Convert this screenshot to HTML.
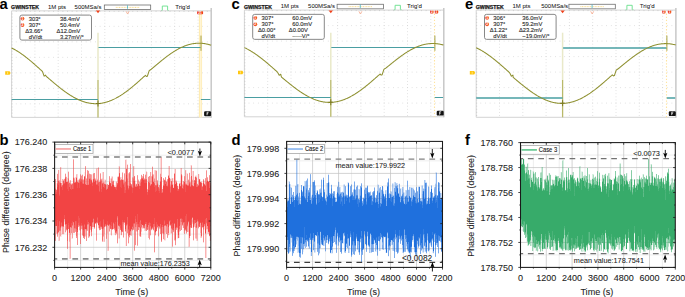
<!DOCTYPE html><html><head><meta charset="utf-8"><style>html,body{margin:0;padding:0;background:#fff;overflow:hidden}svg{display:block}</style></head><body><svg width="685" height="297" viewBox="0 0 685 297" style="font-family:'Liberation Sans',sans-serif"><rect width="685" height="297" fill="#fff"/><text x="-0.4" y="8.5" font-size="14.8" font-weight="bold" fill="#000">a</text><g transform="translate(0,0)"><text x="11.1" y="9.3" font-size="4.9" font-weight="bold" fill="#1a1a1a" stroke="#1a1a1a" stroke-width="0.25" textLength="28" lengthAdjust="spacingAndGlyphs">GWINSTEK</text><text x="47.9" y="9.2" font-size="6" fill="#222" stroke="#222" stroke-width="0.05">1M  pts</text><text x="74.6" y="9.2" font-size="6" fill="#222" stroke="#222" stroke-width="0.05" textLength="26.9" lengthAdjust="spacingAndGlyphs">500MSa/s</text><rect x="104.3" y="5" width="46.4" height="4.6" fill="#fff" stroke="#666" stroke-width="0.75"/><line x1="115.8" y1="7.4" x2="139.5" y2="7.4" stroke="#f5cf60" stroke-width="0.7" stroke-dasharray="1 0.6"/><line x1="127.5" y1="5.3" x2="127.5" y2="8.8" stroke="#2fb0c8" stroke-width="0.7"/><polyline points="161,10.55 162.3,10.55 162.3,6.05 167.6,6.05 167.6,10.55 168.9,10.55" fill="none" stroke="#66e08a" stroke-width="0.9"/><text x="175.2" y="9.2" font-size="6.1" fill="#222" stroke="#222" stroke-width="0.05">Trig'd</text></g><path d="M34.9,10.85V117.4M58.2,10.85V117.4M81.5,10.85V117.4M104.8,10.85V117.4M128.1,10.85V117.4M151.4,10.85V117.4M174.7,10.85V117.4M198,10.85V117.4" stroke="#cdcdcd" stroke-width="0.75" stroke-dasharray="0.75 2.35" stroke-dashoffset="0.42" fill="none"/><path d="M11.6,26.35H211.2M11.6,41.85H211.2M11.6,57.35H211.2M11.6,72.85H211.2M11.6,88.35H211.2M11.6,103.85H211.2" stroke="#cdcdcd" stroke-width="0.75" stroke-dasharray="0.75 3.91" stroke-dashoffset="0.42" fill="none"/><path d="M11.6,10.85H211.2M11.6,10.85V117.4H211.2" stroke="#cfcfcf" stroke-width="0.9" fill="none"/><line x1="211.2" y1="8" x2="211.2" y2="117.8" stroke="#c4c4c4" stroke-width="1.4"/><path d="M16.26,10.85v1M20.92,10.85v1M25.58,10.85v1M30.24,10.85v1M34.9,10.85v1M39.56,10.85v1M44.22,10.85v1M48.88,10.85v1M53.54,10.85v1M58.2,10.85v1M62.86,10.85v1M67.52,10.85v1M72.18,10.85v1M76.84,10.85v1M81.5,10.85v1M86.16,10.85v1M90.82,10.85v1M95.48,10.85v1M100.14,10.85v1M104.8,10.85v1M109.46,10.85v1M114.12,10.85v1M118.78,10.85v1M123.44,10.85v1M128.1,10.85v1M132.76,10.85v1M137.42,10.85v1M142.08,10.85v1M146.74,10.85v1M151.4,10.85v1M156.06,10.85v1M160.72,10.85v1M165.38,10.85v1M170.04,10.85v1M174.7,10.85v1M179.36,10.85v1M184.02,10.85v1M188.68,10.85v1M193.34,10.85v1M198,10.85v1M202.66,10.85v1M207.32,10.85v1M11.6,13.95h1M11.6,17.05h1M11.6,20.15h1M11.6,23.25h1M11.6,26.35h1M11.6,29.45h1M11.6,32.55h1M11.6,35.65h1M11.6,38.75h1M11.6,41.85h1M11.6,44.95h1M11.6,48.05h1M11.6,51.15h1M11.6,54.25h1M11.6,57.35h1M11.6,60.45h1M11.6,63.55h1M11.6,66.65h1M11.6,69.75h1M11.6,72.85h1M11.6,75.95h1M11.6,79.05h1M11.6,82.15h1M11.6,85.25h1M11.6,88.35h1M11.6,91.45h1M11.6,94.55h1M11.6,97.65h1M11.6,100.75h1M11.6,103.85h1M11.6,106.95h1M11.6,110.05h1M11.6,113.15h1M11.6,116.25h1" stroke="#bdbdbd" stroke-width="0.6" fill="none"/><line x1="98" y1="32.7" x2="98" y2="80" stroke="#e9e9c9" stroke-width="1.5"/><line x1="98" y1="80" x2="98" y2="117.4" stroke="#b9b96a" stroke-width="1.3"/><rect x="199" y="13.35" width="3.2" height="104.05" fill="#fffaea"/><line x1="199.4" y1="13.35" x2="199.4" y2="117.4" stroke="#ffe7a0" stroke-width="0.85"/><line x1="201.2" y1="13.35" x2="201.2" y2="117.4" stroke="#ffe7a0" stroke-width="0.85"/><path d="M11.6,99.45H98M98.5,47.45H200.6M200.9,99.45H210.5" stroke="#4a9ea2" stroke-width="1.1" fill="none"/><path d="M11.6,47.92 L12.1,48.17 L12.6,48.43 L13.1,48.69 L13.6,48.96 L14.1,49.23 L14.6,49.51 L15.1,49.79 L15.6,50.08 L16.1,50.38 L16.6,50.68 L17.1,50.99 L17.6,51.3 L18.1,51.61 L18.6,51.93 L19.1,52.26 L19.6,52.59 L20.1,52.93 L20.6,53.27 L21.1,53.61 L21.6,53.96 L22.1,54.32 L22.6,54.68 L23.1,55.04 L23.6,55.41 L24.1,55.78 L24.6,56.15 L25.1,56.53 L25.6,56.92 L26.1,57.3 L26.6,57.69 L27.1,58.09 L27.6,58.49 L28.1,58.89 L28.6,59.29 L29.1,59.7 L29.6,60.11 L30.1,60.53 L30.6,60.95 L31.1,61.37 L31.6,61.79 L32.1,62.22 L32.6,62.65 L33.1,63.08 L33.6,63.51 L34.1,63.95 L34.6,64.38 L35.1,64.82 L35.6,65.27 L36.1,65.71 L36.6,66.16 L37.1,66.6 L37.6,67.05 L38.1,67.5 L38.6,67.95 L39.1,68.41 L39.6,68.86 L40.1,69.32 L40.6,69.77 L41.1,70.23 L41.6,70.69 L42.1,71.14 L42.6,71.9 L44.1,76.2 L45.6,75.1 L46.1,76.19 L46.6,76.62 L47.1,77.06 L47.6,77.49 L48.1,77.92 L48.6,78.35 L49.1,78.78 L49.6,79.21 L50.1,79.64 L50.6,80.07 L51.1,80.5 L51.6,80.93 L52.1,81.36 L52.6,81.78 L53.1,82.21 L53.6,82.63 L54.1,83.05 L54.6,83.47 L55.1,83.89 L55.6,84.3 L56.1,84.72 L56.6,85.13 L57.1,85.54 L57.6,85.95 L58.1,86.35 L58.6,86.75 L59.1,87.15 L59.6,87.55 L60.1,87.94 L60.6,88.34 L61.1,88.72 L61.6,89.11 L62.1,89.49 L62.6,89.87 L63.1,90.25 L63.6,90.62 L64.1,90.99 L64.6,91.35 L65.1,91.71 L65.6,92.07 L66.1,92.42 L66.6,92.77 L67.1,93.12 L67.6,93.46 L68.1,93.8 L68.6,94.13 L69.1,94.46 L69.6,94.78 L70.1,95.1 L70.6,95.41 L71.1,95.72 L71.6,96.02 L72.1,96.32 L72.6,96.62 L73.1,96.91 L73.6,97.19 L74.1,97.47 L74.6,97.74 L75.1,98.01 L75.6,98.27 L76.1,98.53 L76.6,98.78 L77.1,99.02 L77.6,99.26 L78.1,99.5 L78.6,99.73 L79.1,99.95 L79.6,100.17 L80.1,100.38 L80.6,100.58 L81.1,100.78 L81.6,100.97 L82.1,101.16 L82.6,101.34 L83.1,101.51 L83.6,101.68 L84.1,101.84 L84.6,101.99 L85.1,102.14 L85.6,102.28 L86.1,102.41 L86.6,102.54 L87.1,102.66 L87.6,102.78 L88.1,102.88 L88.6,102.99 L89.1,103.08 L89.6,103.17 L90.1,103.25 L90.6,103.32 L91.1,103.39 L91.6,103.45 L92.1,103.5 L92.6,103.55 L93.1,103.59 L93.6,103.62 L94.1,103.65 L94.6,103.67 L95.1,103.68 L95.6,103.69 L96.1,103.69 L96.6,103.68 L97.1,103.66 L97.6,103.64 L98.1,103.61 L98.6,103.57 L99.1,103.53 L99.6,103.48 L100.1,103.42 L100.6,103.36 L101.1,103.29 L101.6,103.21 L102.1,103.13 L102.6,103.03 L103.1,102.94 L103.6,102.83 L104.1,102.72 L104.6,102.6 L105.1,102.48 L105.6,102.34 L106.1,102.21 L106.6,102.06 L107.1,101.91 L107.6,101.75 L108.1,101.58 L108.6,101.41 L109.1,101.24 L109.6,101.05 L110.1,100.86 L110.6,100.66 L111.1,100.46 L111.6,100.25 L112.1,100.04 L112.6,99.81 L113.1,99.59 L113.6,99.35 L114.1,99.11 L114.6,98.87 L115.1,98.61 L115.6,98.36 L116.1,98.09 L116.6,97.82 L117.1,97.55 L117.6,97.27 L118.1,96.98 L118.6,96.69 L119.1,96.39 L119.6,96.09 L120.1,95.79 L120.6,95.47 L121.1,95.16 L121.6,94.83 L122.1,94.51 L122.6,94.17 L123.1,93.84 L123.6,93.49 L124.1,93.15 L124.6,92.8 L125.1,92.44 L125.6,92.08 L126.1,91.72 L126.6,91.35 L127.1,90.98 L127.6,90.6 L128.1,90.22 L128.6,89.83 L129.1,89.45 L129.6,89.05 L130.1,88.66 L130.6,88.26 L131.1,87.86 L131.6,87.45 L132.1,87.04 L132.6,86.63 L133.1,86.21 L133.6,85.79 L134.1,85.37 L134.6,84.95 L135.1,84.52 L135.6,84.09 L136.1,83.66 L136.6,83.23 L137.1,82.79 L137.6,82.35 L138.1,81.91 L138.6,81.47 L139.1,81.02 L139.6,80.58 L140.1,80.13 L140.6,79.68 L141.1,79.23 L141.6,78.78 L142.1,78.32 L142.6,77.87 L143.1,77.41 L143.6,76.96 L144.1,76.5 L144.6,76.04 L145.1,75.58 L145.3,75.37 L146.5,76.47 L147.4,76.17 L149.2,70.67 L150.5,69.77 L150.6,69.75 L151.1,69.34 L151.6,68.93 L152.1,68.51 L152.6,68.1 L153.1,67.68 L153.6,67.26 L154.1,66.84 L154.6,66.42 L155.1,66 L155.6,65.58 L156.1,65.16 L156.6,64.74 L157.1,64.32 L157.6,63.9 L158.1,63.48 L158.6,63.07 L159.1,62.65 L159.6,62.24 L160.1,61.83 L160.6,61.41 L161.1,61.01 L161.6,60.6 L162.1,60.19 L162.6,59.79 L163.1,59.39 L163.6,58.99 L164.1,58.6 L164.6,58.21 L165.1,57.82 L165.6,57.43 L166.1,57.05 L166.6,56.67 L167.1,56.29 L167.6,55.92 L168.1,55.55 L168.6,55.19 L169.1,54.83 L169.6,54.47 L170.1,54.12 L170.6,53.77 L171.1,53.42 L171.6,53.08 L172.1,52.75 L172.6,52.42 L173.1,52.09 L173.6,51.77 L174.1,51.45 L174.6,51.14 L175.1,50.83 L175.6,50.53 L176.1,50.24 L176.6,49.94 L177.1,49.66 L177.6,49.38 L178.1,49.1 L178.6,48.83 L179.1,48.57 L179.6,48.31 L180.1,48.06 L180.6,47.81 L181.1,47.57 L181.6,47.34 L182.1,47.11 L182.6,46.89 L183.1,46.67 L183.6,46.46 L184.1,46.25 L184.6,46.06 L185.1,45.86 L185.6,45.68 L186.1,45.5 L186.6,45.33 L187.1,45.16 L187.6,45 L188.1,44.85 L188.6,44.7 L189.1,44.56 L189.6,44.43 L190.1,44.3 L190.6,44.18 L191.1,44.07 L191.6,43.96 L192.1,43.86 L192.6,43.77 L193.1,43.69 L193.6,43.61 L194.1,43.54 L194.6,43.47 L195.1,43.41 L195.6,43.36 L196.1,43.32 L196.6,43.28 L197.1,43.25 L197.6,43.23 L198.1,43.21 L198.6,43.2 L199.1,43.2 L199.6,43.21 L200.1,43.22 L200.6,43.24 L201.1,43.26 L201.6,43.3 L202.1,43.34 L202.6,43.38 L203.1,43.44 L203.6,43.5 L204.1,43.57 L204.6,43.64 L205.1,43.72 L205.6,43.81 L206.1,43.91 L206.6,44.01 L207.1,44.12 L207.6,44.23 L208.1,44.36 L208.6,44.48 L209.1,44.62 L209.6,44.76 L210.1,44.91 L210.6,45.07 L211.1,45.23" stroke="#8e9030" stroke-width="1.05" fill="none" stroke-linejoin="round"/><line x1="201" y1="35.6" x2="201" y2="50.8" stroke="#9a9838" stroke-width="0.9"/><path d="M96,103.5H100M98,100.5V106.5" stroke="#7d7b22" stroke-width="1"/><path d="M95.9,10.5 H100.1 L98,13.2Z" fill="#f0401a"/><path d="M126.1,11.3 L127.6,14 L129.1,11.3" stroke="#f5a88c" stroke-width="0.8" fill="none"/><rect x="197.1" y="11.3" width="6" height="3" rx="0.8" fill="#ef3d1a"/><text x="200.1" y="13.8" font-size="3.2" font-weight="bold" fill="#fff" text-anchor="middle">21</text><path d="M5.2,71.2 H9.6 L10.6,72.95 L9.6,74.7 H5.2Z" fill="#ffc710"/><path d="M7.6,71.85V74.05" stroke="#fff3c0" stroke-width="0.6"/><rect x="204.1" y="111.3" width="7" height="4.9" rx="1.2" fill="#111"/><path d="M208.6,112.3 h-1.6 v3 M207,113.7 h1.2" stroke="#fff" stroke-width="0.7" fill="none"/><g transform="translate(0,0)"><rect x="19.9" y="15.1" width="71.6" height="25" rx="2" fill="#fff" stroke="#7a7a7a" stroke-width="0.9"/><circle cx="22.5" cy="18.6" r="1.9" fill="#f4552a"/><text x="22.5" y="19.8" font-size="3.4" font-weight="bold" fill="#fff" text-anchor="middle">1</text><circle cx="22.5" cy="25.0" r="1.9" fill="#f4552a"/><text x="22.5" y="26.2" font-size="3.4" font-weight="bold" fill="#fff" text-anchor="middle">2</text><text x="28.7" y="20.8" font-size="5.8" fill="#2a2a2a" stroke="#2a2a2a" stroke-width="0.12">303°</text><text x="60" y="20.8" font-size="5.8" fill="#2a2a2a" stroke="#2a2a2a" stroke-width="0.12">38.4mV</text><text x="28.7" y="26.7" font-size="5.8" fill="#2a2a2a" stroke="#2a2a2a" stroke-width="0.12">307°</text><text x="60" y="26.7" font-size="5.8" fill="#2a2a2a" stroke="#2a2a2a" stroke-width="0.12">50.4mV</text><text x="25.2" y="32.9" font-size="5.8" fill="#2a2a2a" stroke="#2a2a2a" stroke-width="0.12">Δ3.66°</text><text x="56.6" y="32.9" font-size="5.8" fill="#2a2a2a" stroke="#2a2a2a" stroke-width="0.12">Δ12.0mV</text><text x="28.7" y="38.7" font-size="5.8" fill="#2a2a2a" stroke="#2a2a2a" stroke-width="0.12">dV/dt</text><text x="60" y="38.7" font-size="5.8" fill="#2a2a2a" stroke="#2a2a2a" stroke-width="0.12">3.27mV/°</text></g><text x="231.6" y="8.5" font-size="14.8" font-weight="bold" fill="#000">c</text><g transform="translate(0,-0.75)"><text x="243.9" y="9.3" font-size="4.9" font-weight="bold" fill="#1a1a1a" stroke="#1a1a1a" stroke-width="0.25" textLength="28" lengthAdjust="spacingAndGlyphs">GWINSTEK</text><text x="280.7" y="9.2" font-size="6" fill="#222" stroke="#222" stroke-width="0.05">1M  pts</text><text x="308.1" y="9.2" font-size="6" fill="#222" stroke="#222" stroke-width="0.05" textLength="26.9" lengthAdjust="spacingAndGlyphs">500MSa/s</text><rect x="337.1" y="5" width="46.4" height="4.6" fill="#fff" stroke="#666" stroke-width="0.75"/><line x1="348.6" y1="7.4" x2="372.3" y2="7.4" stroke="#f5cf60" stroke-width="0.7" stroke-dasharray="1 0.6"/><line x1="360.3" y1="5.3" x2="360.3" y2="8.8" stroke="#2fb0c8" stroke-width="0.7"/><polyline points="393.8,10.55 395.1,10.55 395.1,6.05 400.4,6.05 400.4,10.55 401.7,10.55" fill="none" stroke="#66e08a" stroke-width="0.9"/><text x="407.1" y="9.2" font-size="6.1" fill="#222" stroke="#222" stroke-width="0.05">Trig'd</text></g><path d="M267.7,10.1V116.8M291,10.1V116.8M314.3,10.1V116.8M337.6,10.1V116.8M360.9,10.1V116.8M384.2,10.1V116.8M407.5,10.1V116.8M430.8,10.1V116.8" stroke="#cdcdcd" stroke-width="0.75" stroke-dasharray="0.75 2.35" stroke-dashoffset="0.42" fill="none"/><path d="M244.4,25.6H443.8M244.4,41.1H443.8M244.4,56.6H443.8M244.4,72.1H443.8M244.4,87.6H443.8M244.4,103.1H443.8" stroke="#cdcdcd" stroke-width="0.75" stroke-dasharray="0.75 3.91" stroke-dashoffset="0.42" fill="none"/><path d="M244.4,10.1H443.8M244.4,10.1V116.8H443.8" stroke="#cfcfcf" stroke-width="0.9" fill="none"/><line x1="443.8" y1="8" x2="443.8" y2="117.2" stroke="#c4c4c4" stroke-width="1.4"/><path d="M249.06,10.1v1M253.72,10.1v1M258.38,10.1v1M263.04,10.1v1M267.7,10.1v1M272.36,10.1v1M277.02,10.1v1M281.68,10.1v1M286.34,10.1v1M291,10.1v1M295.66,10.1v1M300.32,10.1v1M304.98,10.1v1M309.64,10.1v1M314.3,10.1v1M318.96,10.1v1M323.62,10.1v1M328.28,10.1v1M332.94,10.1v1M337.6,10.1v1M342.26,10.1v1M346.92,10.1v1M351.58,10.1v1M356.24,10.1v1M360.9,10.1v1M365.56,10.1v1M370.22,10.1v1M374.88,10.1v1M379.54,10.1v1M384.2,10.1v1M388.86,10.1v1M393.52,10.1v1M398.18,10.1v1M402.84,10.1v1M407.5,10.1v1M412.16,10.1v1M416.82,10.1v1M421.48,10.1v1M426.14,10.1v1M430.8,10.1v1M435.46,10.1v1M440.12,10.1v1M244.4,13.2h1M244.4,16.3h1M244.4,19.4h1M244.4,22.5h1M244.4,25.6h1M244.4,28.7h1M244.4,31.8h1M244.4,34.9h1M244.4,38h1M244.4,41.1h1M244.4,44.2h1M244.4,47.3h1M244.4,50.4h1M244.4,53.5h1M244.4,56.6h1M244.4,59.7h1M244.4,62.8h1M244.4,65.9h1M244.4,69h1M244.4,72.1h1M244.4,75.2h1M244.4,78.3h1M244.4,81.4h1M244.4,84.5h1M244.4,87.6h1M244.4,90.7h1M244.4,93.8h1M244.4,96.9h1M244.4,100h1M244.4,103.1h1M244.4,106.2h1M244.4,109.3h1M244.4,112.4h1M244.4,115.5h1" stroke="#bdbdbd" stroke-width="0.6" fill="none"/><line x1="330.8" y1="32.7" x2="330.8" y2="80" stroke="#e9e9c9" stroke-width="1.5"/><line x1="330.8" y1="80" x2="330.8" y2="116.8" stroke="#b9b96a" stroke-width="1.3"/><line x1="434.5" y1="13.6" x2="434.5" y2="116.8" stroke="#ffe49e" stroke-width="1.1" stroke-dasharray="1.3 1.8"/><path d="M244.4,97.45H330.8M331.3,47.45H434.5M434.8,97.45H443.1" stroke="#4a9ea2" stroke-width="1.1" fill="none"/><path d="M244.4,47.63 L244.9,47.86 L245.4,48.1 L245.9,48.34 L246.4,48.59 L246.9,48.85 L247.4,49.11 L247.9,49.37 L248.4,49.64 L248.9,49.92 L249.4,50.2 L249.9,50.49 L250.4,50.78 L250.9,51.08 L251.4,51.38 L251.9,51.69 L252.4,52 L252.9,52.32 L253.4,52.64 L253.9,52.97 L254.4,53.3 L254.9,53.64 L255.4,53.98 L255.9,54.32 L256.4,54.67 L256.9,55.02 L257.4,55.38 L257.9,55.74 L258.4,56.11 L258.9,56.48 L259.4,56.85 L259.9,57.23 L260.4,57.61 L260.9,57.99 L261.4,58.38 L261.9,58.77 L262.4,59.17 L262.9,59.57 L263.4,59.97 L263.9,60.37 L264.4,60.78 L264.9,61.19 L265.4,61.6 L265.9,62.01 L266.4,62.43 L266.9,62.85 L267.4,63.27 L267.9,63.7 L268.4,64.12 L268.9,64.55 L269.4,64.98 L269.9,65.41 L270.4,65.85 L270.9,66.28 L271.4,66.72 L271.9,67.16 L272.4,67.6 L272.9,68.04 L273.4,68.48 L273.9,68.92 L274.4,69.37 L274.9,69.81 L275.4,70.26 L275.9,70.7 L276.4,71.15 L276.9,71.6 L277.4,72.04 L277.7,72.61 L279.2,75.31 L280.7,74.21 L281.4,76.98 L281.9,77.4 L282.4,77.82 L282.9,78.24 L283.4,78.65 L283.9,79.07 L284.4,79.49 L284.9,79.9 L285.4,80.32 L285.9,80.73 L286.4,81.14 L286.9,81.55 L287.4,81.96 L287.9,82.37 L288.4,82.78 L288.9,83.18 L289.4,83.59 L289.9,83.99 L290.4,84.39 L290.9,84.78 L291.4,85.18 L291.9,85.57 L292.4,85.96 L292.9,86.35 L293.4,86.74 L293.9,87.12 L294.4,87.5 L294.9,87.88 L295.4,88.25 L295.9,88.62 L296.4,88.99 L296.9,89.35 L297.4,89.72 L297.9,90.07 L298.4,90.43 L298.9,90.78 L299.4,91.12 L299.9,91.47 L300.4,91.81 L300.9,92.14 L301.4,92.47 L301.9,92.8 L302.4,93.12 L302.9,93.44 L303.4,93.75 L303.9,94.06 L304.4,94.37 L304.9,94.67 L305.4,94.96 L305.9,95.25 L306.4,95.54 L306.9,95.82 L307.4,96.09 L307.9,96.36 L308.4,96.63 L308.9,96.89 L309.4,97.14 L309.9,97.39 L310.4,97.64 L310.9,97.88 L311.4,98.11 L311.9,98.34 L312.4,98.56 L312.9,98.77 L313.4,98.98 L313.9,99.19 L314.4,99.38 L314.9,99.58 L315.4,99.76 L315.9,99.94 L316.4,100.12 L316.9,100.29 L317.4,100.45 L317.9,100.6 L318.4,100.75 L318.9,100.9 L319.4,101.03 L319.9,101.16 L320.4,101.29 L320.9,101.41 L321.4,101.52 L321.9,101.62 L322.4,101.72 L322.9,101.81 L323.4,101.9 L323.9,101.97 L324.4,102.05 L324.9,102.11 L325.4,102.17 L325.9,102.22 L326.4,102.27 L326.9,102.31 L327.4,102.34 L327.9,102.36 L328.4,102.38 L328.9,102.39 L329.4,102.4 L329.9,102.4 L330.4,102.39 L330.9,102.37 L331.4,102.35 L331.9,102.32 L332.4,102.28 L332.9,102.24 L333.4,102.19 L333.9,102.14 L334.4,102.07 L334.9,102.01 L335.4,101.93 L335.9,101.85 L336.4,101.76 L336.9,101.66 L337.4,101.56 L337.9,101.45 L338.4,101.34 L338.9,101.21 L339.4,101.08 L339.9,100.95 L340.4,100.81 L340.9,100.66 L341.4,100.51 L341.9,100.34 L342.4,100.18 L342.9,100 L343.4,99.82 L343.9,99.64 L344.4,99.45 L344.9,99.25 L345.4,99.05 L345.9,98.83 L346.4,98.62 L346.9,98.4 L347.4,98.17 L347.9,97.94 L348.4,97.7 L348.9,97.45 L349.4,97.2 L349.9,96.94 L350.4,96.68 L350.9,96.41 L351.4,96.14 L351.9,95.86 L352.4,95.58 L352.9,95.29 L353.4,95 L353.9,94.7 L354.4,94.39 L354.9,94.08 L355.4,93.77 L355.9,93.45 L356.4,93.13 L356.9,92.8 L357.4,92.47 L357.9,92.13 L358.4,91.79 L358.9,91.44 L359.4,91.09 L359.9,90.73 L360.4,90.38 L360.9,90.01 L361.4,89.65 L361.9,89.28 L362.4,88.9 L362.9,88.52 L363.4,88.14 L363.9,87.76 L364.4,87.37 L364.9,86.97 L365.4,86.58 L365.9,86.18 L366.4,85.78 L366.9,85.37 L367.4,84.97 L367.9,84.56 L368.4,84.14 L368.9,83.73 L369.4,83.31 L369.9,82.89 L370.4,82.47 L370.9,82.04 L371.4,81.62 L371.9,81.19 L372.4,80.76 L372.9,80.32 L373.4,79.89 L373.9,79.45 L374.4,79.01 L374.9,78.58 L375.4,78.13 L375.9,77.69 L376.4,77.25 L376.9,76.81 L377.4,76.36 L377.9,75.92 L378.4,75.47 L378.9,75.02 L379.4,74.58 L380,74.01 L381.2,75.11 L382.1,74.81 L383.9,69.31 L385.2,68.41 L385.4,68.45 L385.9,68.05 L386.4,67.65 L386.9,67.25 L387.4,66.85 L387.9,66.44 L388.4,66.04 L388.9,65.63 L389.4,65.23 L389.9,64.82 L390.4,64.42 L390.9,64.01 L391.4,63.61 L391.9,63.2 L392.4,62.8 L392.9,62.4 L393.4,62 L393.9,61.6 L394.4,61.2 L394.9,60.8 L395.4,60.41 L395.9,60.02 L396.4,59.63 L396.9,59.24 L397.4,58.85 L397.9,58.47 L398.4,58.09 L398.9,57.71 L399.4,57.34 L399.9,56.97 L400.4,56.6 L400.9,56.23 L401.4,55.87 L401.9,55.51 L402.4,55.16 L402.9,54.81 L403.4,54.46 L403.9,54.12 L404.4,53.78 L404.9,53.44 L405.4,53.11 L405.9,52.79 L406.4,52.47 L406.9,52.15 L407.4,51.84 L407.9,51.53 L408.4,51.23 L408.9,50.93 L409.4,50.63 L409.9,50.35 L410.4,50.06 L410.9,49.78 L411.4,49.51 L411.9,49.24 L412.4,48.98 L412.9,48.73 L413.4,48.47 L413.9,48.23 L414.4,47.99 L414.9,47.75 L415.4,47.53 L415.9,47.3 L416.4,47.09 L416.9,46.88 L417.4,46.67 L417.9,46.47 L418.4,46.28 L418.9,46.09 L419.4,45.91 L419.9,45.74 L420.4,45.57 L420.9,45.41 L421.4,45.25 L421.9,45.1 L422.4,44.96 L422.9,44.83 L423.4,44.7 L423.9,44.57 L424.4,44.46 L424.9,44.35 L425.4,44.24 L425.9,44.15 L426.4,44.06 L426.9,43.97 L427.4,43.9 L427.9,43.83 L428.4,43.76 L428.9,43.71 L429.4,43.66 L429.9,43.62 L430.4,43.58 L430.9,43.55 L431.4,43.53 L431.9,43.51 L432.4,43.5 L432.9,43.5 L433.4,43.51 L433.9,43.52 L434.4,43.54 L434.9,43.56 L435.4,43.59 L435.9,43.63 L436.4,43.68 L436.9,43.73 L437.4,43.79 L437.9,43.86 L438.4,43.93 L438.9,44.01 L439.4,44.09 L439.9,44.19 L440.4,44.29 L440.9,44.39 L441.4,44.51 L441.9,44.62 L442.4,44.75 L442.9,44.88 L443.4,45.02" stroke="#8e9030" stroke-width="1.05" fill="none" stroke-linejoin="round"/><line x1="434.9" y1="35.6" x2="434.9" y2="50.8" stroke="#9a9838" stroke-width="0.9"/><path d="M328.8,102.2H332.8M330.8,99.2V105.2" stroke="#7d7b22" stroke-width="1"/><path d="M328.7,10.5 H332.9 L330.8,13.2Z" fill="#f0401a"/><path d="M358.9,11.3 L360.4,14 L361.9,11.3" stroke="#f5a88c" stroke-width="0.8" fill="none"/><rect x="430.1" y="10.55" width="3.4" height="3" rx="0.8" fill="#ef3d1a"/><text x="431.8" y="13.05" font-size="3.2" font-weight="bold" fill="#fff" text-anchor="middle">2</text><rect x="434.8" y="10.55" width="3.4" height="3" rx="0.8" fill="#ef3d1a"/><text x="436.5" y="13.05" font-size="3.2" font-weight="bold" fill="#fff" text-anchor="middle">1</text><path d="M238,70.7 H242.4 L243.4,72.45 L242.4,74.2 H238Z" fill="#ffc710"/><path d="M240.4,71.35V73.55" stroke="#fff3c0" stroke-width="0.6"/><rect x="436.7" y="110.7" width="7" height="4.9" rx="1.2" fill="#111"/><path d="M441.2,111.7 h-1.6 v3 M439.6,113.1 h1.2" stroke="#fff" stroke-width="0.7" fill="none"/><g transform="translate(0,-0.75)"><rect x="252.7" y="15.1" width="71.6" height="25" rx="2" fill="#fff" stroke="#7a7a7a" stroke-width="0.9"/><circle cx="255.3" cy="18.6" r="1.9" fill="#f4552a"/><text x="255.3" y="19.8" font-size="3.4" font-weight="bold" fill="#fff" text-anchor="middle">1</text><circle cx="255.3" cy="25.0" r="1.9" fill="#f4552a"/><text x="255.3" y="26.2" font-size="3.4" font-weight="bold" fill="#fff" text-anchor="middle">2</text><text x="261.5" y="20.8" font-size="5.8" fill="#2a2a2a" stroke="#2a2a2a" stroke-width="0.12">307°</text><text x="292.2" y="20.8" font-size="5.8" fill="#2a2a2a" stroke="#2a2a2a" stroke-width="0.12">60.0mV</text><text x="261.5" y="26.7" font-size="5.8" fill="#2a2a2a" stroke="#2a2a2a" stroke-width="0.12">307°</text><text x="292.2" y="26.7" font-size="5.8" fill="#2a2a2a" stroke="#2a2a2a" stroke-width="0.12">60.0mV</text><text x="258" y="32.9" font-size="5.8" fill="#2a2a2a" stroke="#2a2a2a" stroke-width="0.12">Δ0.00°</text><text x="288.8" y="32.9" font-size="5.8" fill="#2a2a2a" stroke="#2a2a2a" stroke-width="0.12">Δ0.00V</text><text x="261.5" y="38.7" font-size="5.8" fill="#2a2a2a" stroke="#2a2a2a" stroke-width="0.12">dV/dt</text><text x="292.2" y="38.7" font-size="5.8" fill="#2a2a2a" stroke="#2a2a2a" stroke-width="0.12">-----V/°</text></g><text x="465" y="8.5" font-size="14.8" font-weight="bold" fill="#000">e</text><g transform="translate(0,-0.75)"><text x="475.7" y="9.3" font-size="4.9" font-weight="bold" fill="#1a1a1a" stroke="#1a1a1a" stroke-width="0.25" textLength="28" lengthAdjust="spacingAndGlyphs">GWINSTEK</text><text x="512.5" y="9.2" font-size="6" fill="#222" stroke="#222" stroke-width="0.05">1M  pts</text><text x="541.2" y="9.2" font-size="6" fill="#222" stroke="#222" stroke-width="0.05" textLength="26.9" lengthAdjust="spacingAndGlyphs">500MSa/s</text><rect x="568.9" y="5" width="46.4" height="4.6" fill="#fff" stroke="#666" stroke-width="0.75"/><line x1="580.4" y1="7.4" x2="604.1" y2="7.4" stroke="#f5cf60" stroke-width="0.7" stroke-dasharray="1 0.6"/><line x1="592.1" y1="5.3" x2="592.1" y2="8.8" stroke="#2fb0c8" stroke-width="0.7"/><polyline points="625.6,10.55 626.9,10.55 626.9,6.05 632.2,6.05 632.2,10.55 633.5,10.55" fill="none" stroke="#66e08a" stroke-width="0.9"/><text x="639.8" y="9.2" font-size="6.1" fill="#222" stroke="#222" stroke-width="0.05">Trig'd</text></g><path d="M499.5,10.1V117.3M522.8,10.1V117.3M546.1,10.1V117.3M569.4,10.1V117.3M592.7,10.1V117.3M616,10.1V117.3M639.3,10.1V117.3M662.6,10.1V117.3" stroke="#cdcdcd" stroke-width="0.75" stroke-dasharray="0.75 2.35" stroke-dashoffset="0.42" fill="none"/><path d="M476.2,25.6H675.9M476.2,41.1H675.9M476.2,56.6H675.9M476.2,72.1H675.9M476.2,87.6H675.9M476.2,103.1H675.9" stroke="#cdcdcd" stroke-width="0.75" stroke-dasharray="0.75 3.91" stroke-dashoffset="0.42" fill="none"/><path d="M476.2,10.1H675.9M476.2,10.1V117.3H675.9" stroke="#cfcfcf" stroke-width="0.9" fill="none"/><line x1="675.9" y1="8" x2="675.9" y2="117.7" stroke="#c4c4c4" stroke-width="1.4"/><path d="M480.86,10.1v1M485.52,10.1v1M490.18,10.1v1M494.84,10.1v1M499.5,10.1v1M504.16,10.1v1M508.82,10.1v1M513.48,10.1v1M518.14,10.1v1M522.8,10.1v1M527.46,10.1v1M532.12,10.1v1M536.78,10.1v1M541.44,10.1v1M546.1,10.1v1M550.76,10.1v1M555.42,10.1v1M560.08,10.1v1M564.74,10.1v1M569.4,10.1v1M574.06,10.1v1M578.72,10.1v1M583.38,10.1v1M588.04,10.1v1M592.7,10.1v1M597.36,10.1v1M602.02,10.1v1M606.68,10.1v1M611.34,10.1v1M616,10.1v1M620.66,10.1v1M625.32,10.1v1M629.98,10.1v1M634.64,10.1v1M639.3,10.1v1M643.96,10.1v1M648.62,10.1v1M653.28,10.1v1M657.94,10.1v1M662.6,10.1v1M667.26,10.1v1M671.92,10.1v1M476.2,13.2h1M476.2,16.3h1M476.2,19.4h1M476.2,22.5h1M476.2,25.6h1M476.2,28.7h1M476.2,31.8h1M476.2,34.9h1M476.2,38h1M476.2,41.1h1M476.2,44.2h1M476.2,47.3h1M476.2,50.4h1M476.2,53.5h1M476.2,56.6h1M476.2,59.7h1M476.2,62.8h1M476.2,65.9h1M476.2,69h1M476.2,72.1h1M476.2,75.2h1M476.2,78.3h1M476.2,81.4h1M476.2,84.5h1M476.2,87.6h1M476.2,90.7h1M476.2,93.8h1M476.2,96.9h1M476.2,100h1M476.2,103.1h1M476.2,106.2h1M476.2,109.3h1M476.2,112.4h1M476.2,115.5h1" stroke="#bdbdbd" stroke-width="0.6" fill="none"/><line x1="562.6" y1="32.7" x2="562.6" y2="80" stroke="#e9e9c9" stroke-width="1.5"/><line x1="562.6" y1="80" x2="562.6" y2="117.3" stroke="#b9b96a" stroke-width="1.3"/><line x1="666.5" y1="13.6" x2="666.5" y2="117.3" stroke="#ffe49e" stroke-width="1.1" stroke-dasharray="1.3 1.8"/><path d="M476.2,98H562.6M563.1,48H666.5M666.8,98H675.2" stroke="#48a0a3" stroke-width="1.6" fill="none"/><path d="M476.2,47.75 L476.7,47.99 L477.2,48.22 L477.7,48.47 L478.2,48.72 L478.7,48.98 L479.2,49.24 L479.7,49.51 L480.2,49.78 L480.7,50.06 L481.2,50.34 L481.7,50.63 L482.2,50.92 L482.7,51.22 L483.2,51.53 L483.7,51.84 L484.2,52.15 L484.7,52.47 L485.2,52.8 L485.7,53.13 L486.2,53.46 L486.7,53.8 L487.2,54.14 L487.7,54.49 L488.2,54.84 L488.7,55.2 L489.2,55.56 L489.7,55.92 L490.2,56.29 L490.7,56.66 L491.2,57.04 L491.7,57.42 L492.2,57.8 L492.7,58.19 L493.2,58.58 L493.7,58.97 L494.2,59.37 L494.7,59.77 L495.2,60.17 L495.7,60.58 L496.2,60.99 L496.7,61.4 L497.2,61.82 L497.7,62.24 L498.2,62.66 L498.7,63.08 L499.2,63.51 L499.7,63.93 L500.2,64.36 L500.7,64.8 L501.2,65.23 L501.7,65.67 L502.2,66.1 L502.7,66.54 L503.2,66.98 L503.7,67.43 L504.2,67.87 L504.7,68.31 L505.2,68.76 L505.7,69.21 L506.2,69.66 L506.7,70.11 L507.2,70.56 L507.7,71.01 L508.2,71.46 L508.7,71.91 L509.2,72.36 L509.9,73.29 L511.4,76.19 L512.9,75.09 L513.2,77.36 L513.7,77.78 L514.2,78.2 L514.7,78.63 L515.2,79.05 L515.7,79.47 L516.2,79.89 L516.7,80.31 L517.2,80.73 L517.7,81.15 L518.2,81.57 L518.7,81.98 L519.2,82.4 L519.7,82.81 L520.2,83.22 L520.7,83.63 L521.2,84.04 L521.7,84.45 L522.2,84.85 L522.7,85.26 L523.2,85.66 L523.7,86.06 L524.2,86.45 L524.7,86.85 L525.2,87.24 L525.7,87.63 L526.2,88.01 L526.7,88.4 L527.2,88.78 L527.7,89.15 L528.2,89.53 L528.7,89.9 L529.2,90.26 L529.7,90.63 L530.2,90.99 L530.7,91.35 L531.2,91.7 L531.7,92.05 L532.2,92.39 L532.7,92.74 L533.2,93.07 L533.7,93.41 L534.2,93.73 L534.7,94.06 L535.2,94.38 L535.7,94.7 L536.2,95.01 L536.7,95.31 L537.2,95.62 L537.7,95.91 L538.2,96.21 L538.7,96.49 L539.2,96.78 L539.7,97.05 L540.2,97.32 L540.7,97.59 L541.2,97.85 L541.7,98.11 L542.2,98.36 L542.7,98.61 L543.2,98.85 L543.7,99.08 L544.2,99.31 L544.7,99.53 L545.2,99.75 L545.7,99.96 L546.2,100.17 L546.7,100.37 L547.2,100.56 L547.7,100.75 L548.2,100.93 L548.7,101.1 L549.2,101.27 L549.7,101.44 L550.2,101.59 L550.7,101.74 L551.2,101.89 L551.7,102.02 L552.2,102.16 L552.7,102.28 L553.2,102.4 L553.7,102.51 L554.2,102.62 L554.7,102.71 L555.2,102.81 L555.7,102.89 L556.2,102.97 L556.7,103.04 L557.2,103.11 L557.7,103.17 L558.2,103.22 L558.7,103.27 L559.2,103.3 L559.7,103.34 L560.2,103.36 L560.7,103.38 L561.2,103.39 L561.7,103.4 L562.2,103.39 L562.7,103.39 L563.2,103.37 L563.7,103.35 L564.2,103.32 L564.7,103.28 L565.2,103.24 L565.7,103.19 L566.2,103.14 L566.7,103.07 L567.2,103 L567.7,102.93 L568.2,102.84 L568.7,102.75 L569.2,102.66 L569.7,102.55 L570.2,102.45 L570.7,102.33 L571.2,102.21 L571.7,102.08 L572.2,101.94 L572.7,101.8 L573.2,101.65 L573.7,101.49 L574.2,101.33 L574.7,101.17 L575.2,100.99 L575.7,100.81 L576.2,100.62 L576.7,100.43 L577.2,100.23 L577.7,100.03 L578.2,99.81 L578.7,99.6 L579.2,99.37 L579.7,99.14 L580.2,98.91 L580.7,98.67 L581.2,98.42 L581.7,98.17 L582.2,97.91 L582.7,97.65 L583.2,97.38 L583.7,97.1 L584.2,96.82 L584.7,96.54 L585.2,96.25 L585.7,95.95 L586.2,95.65 L586.7,95.34 L587.2,95.03 L587.7,94.72 L588.2,94.4 L588.7,94.07 L589.2,93.74 L589.7,93.4 L590.2,93.07 L590.7,92.72 L591.2,92.37 L591.7,92.02 L592.2,91.66 L592.7,91.3 L593.2,90.94 L593.7,90.57 L594.2,90.19 L594.7,89.82 L595.2,89.43 L595.7,89.05 L596.2,88.66 L596.7,88.27 L597.2,87.88 L597.7,87.48 L598.2,87.08 L598.7,86.67 L599.2,86.26 L599.7,85.85 L600.2,85.44 L600.7,85.02 L601.2,84.6 L601.7,84.18 L602.2,83.76 L602.7,83.33 L603.2,82.9 L603.7,82.47 L604.2,82.04 L604.7,81.61 L605.2,81.17 L605.7,80.73 L606.2,80.29 L606.7,79.85 L607.2,79.41 L607.7,78.96 L608.2,78.52 L608.7,78.07 L609.2,77.62 L609.7,77.17 L610.2,76.72 L610.7,76.27 L611.2,75.82 L611.7,75.37 L612.3,74.8 L613.5,75.9 L614.4,75.6 L616.2,70.1 L617.5,69.2 L617.7,69.19 L618.2,68.78 L618.7,68.38 L619.2,67.97 L619.7,67.56 L620.2,67.15 L620.7,66.74 L621.2,66.33 L621.7,65.92 L622.2,65.51 L622.7,65.1 L623.2,64.69 L623.7,64.28 L624.2,63.87 L624.7,63.46 L625.2,63.05 L625.7,62.65 L626.2,62.24 L626.7,61.84 L627.2,61.43 L627.7,61.03 L628.2,60.64 L628.7,60.24 L629.2,59.84 L629.7,59.45 L630.2,59.06 L630.7,58.68 L631.2,58.29 L631.7,57.91 L632.2,57.53 L632.7,57.16 L633.2,56.79 L633.7,56.42 L634.2,56.06 L634.7,55.69 L635.2,55.34 L635.7,54.98 L636.2,54.63 L636.7,54.29 L637.2,53.95 L637.7,53.61 L638.2,53.28 L638.7,52.95 L639.2,52.62 L639.7,52.3 L640.2,51.99 L640.7,51.68 L641.2,51.37 L641.7,51.07 L642.2,50.78 L642.7,50.49 L643.2,50.2 L643.7,49.92 L644.2,49.65 L644.7,49.38 L645.2,49.12 L645.7,48.86 L646.2,48.6 L646.7,48.36 L647.2,48.12 L647.7,47.88 L648.2,47.65 L648.7,47.43 L649.2,47.21 L649.7,47 L650.2,46.79 L650.7,46.59 L651.2,46.4 L651.7,46.21 L652.2,46.03 L652.7,45.85 L653.2,45.68 L653.7,45.52 L654.2,45.36 L654.7,45.21 L655.2,45.07 L655.7,44.93 L656.2,44.8 L656.7,44.68 L657.2,44.56 L657.7,44.45 L658.2,44.35 L658.7,44.25 L659.2,44.16 L659.7,44.08 L660.2,44 L660.7,43.93 L661.2,43.87 L661.7,43.81 L662.2,43.76 L662.7,43.72 L663.2,43.68 L663.7,43.65 L664.2,43.63 L664.7,43.61 L665.2,43.6 L665.7,43.6 L666.2,43.61 L666.7,43.62 L667.2,43.64 L667.7,43.66 L668.2,43.69 L668.7,43.73 L669.2,43.78 L669.7,43.83 L670.2,43.89 L670.7,43.96 L671.2,44.03 L671.7,44.11 L672.2,44.2 L672.7,44.29 L673.2,44.39 L673.7,44.5 L674.2,44.61 L674.7,44.73 L675.2,44.86 L675.7,44.99" stroke="#8e9030" stroke-width="1.05" fill="none" stroke-linejoin="round"/><line x1="666.9" y1="35.6" x2="666.9" y2="50.8" stroke="#9a9838" stroke-width="0.9"/><path d="M560.6,103.2H564.6M562.6,100.2V106.2" stroke="#7d7b22" stroke-width="1"/><path d="M560.5,10.5 H564.7 L562.6,13.2Z" fill="#f0401a"/><path d="M590.7,11.3 L592.2,14 L593.7,11.3" stroke="#f5a88c" stroke-width="0.8" fill="none"/><rect x="662.2" y="10.55" width="3.3" height="3" rx="0.8" fill="#ef3d1a"/><text x="663.85" y="13.05" font-size="3.2" font-weight="bold" fill="#fff" text-anchor="middle">2</text><rect x="667.9" y="10.55" width="3.3" height="3" rx="0.8" fill="#ef3d1a"/><text x="669.55" y="13.05" font-size="3.2" font-weight="bold" fill="#fff" text-anchor="middle">1</text><path d="M469.8,71.05 H474.2 L475.2,72.8 L474.2,74.55 H469.8Z" fill="#ffc710"/><path d="M472.2,71.7V73.9" stroke="#fff3c0" stroke-width="0.6"/><rect x="668.8" y="111.2" width="7" height="4.9" rx="1.2" fill="#111"/><path d="M673.3,112.2 h-1.6 v3 M671.7,113.6 h1.2" stroke="#fff" stroke-width="0.7" fill="none"/><g transform="translate(0,-0.75)"><rect x="484.5" y="15.1" width="71.6" height="25" rx="2" fill="#fff" stroke="#7a7a7a" stroke-width="0.9"/><circle cx="487.1" cy="18.6" r="1.9" fill="#f4552a"/><text x="487.1" y="19.8" font-size="3.4" font-weight="bold" fill="#fff" text-anchor="middle">1</text><circle cx="487.1" cy="25.0" r="1.9" fill="#f4552a"/><text x="487.1" y="26.2" font-size="3.4" font-weight="bold" fill="#fff" text-anchor="middle">2</text><text x="493.3" y="20.8" font-size="5.8" fill="#2a2a2a" stroke="#2a2a2a" stroke-width="0.12">306°</text><text x="522.3" y="20.8" font-size="5.8" fill="#2a2a2a" stroke="#2a2a2a" stroke-width="0.12">36.0mV</text><text x="493.3" y="26.7" font-size="5.8" fill="#2a2a2a" stroke="#2a2a2a" stroke-width="0.12">307°</text><text x="522.3" y="26.7" font-size="5.8" fill="#2a2a2a" stroke="#2a2a2a" stroke-width="0.12">59.2mV</text><text x="489.8" y="32.9" font-size="5.8" fill="#2a2a2a" stroke="#2a2a2a" stroke-width="0.12">Δ1.22°</text><text x="518.9" y="32.9" font-size="5.8" fill="#2a2a2a" stroke="#2a2a2a" stroke-width="0.12">Δ23.2mV</text><text x="493.3" y="38.7" font-size="5.8" fill="#2a2a2a" stroke="#2a2a2a" stroke-width="0.12">dV/dt</text><text x="522.3" y="38.7" font-size="5.8" fill="#2a2a2a" stroke="#2a2a2a" stroke-width="0.12">−19.0mV/°</text></g><text x="-0.4" y="145" font-size="14.8" font-weight="bold" fill="#000">b</text><path d="M67.62,142.1V267.4M93.65,142.1V267.4M119.68,142.1V267.4M145.72,142.1V267.4M171.75,142.1V267.4M197.78,142.1V267.4M54.6,155.2H210.8M54.6,181.5H210.8M54.6,207.8H210.8M54.6,234.1H210.8M54.6,260.4H210.8" stroke="#e6e6e6" stroke-width="0.7" fill="none"/><path d="M80.63,142.1V267.4M106.67,142.1V267.4M132.7,142.1V267.4M158.73,142.1V267.4M184.77,142.1V267.4M54.6,168.4H210.8M54.6,194.7H210.8M54.6,221H210.8M54.6,247.3H210.8" stroke="#c2c2c2" stroke-width="0.7" fill="none"/><path d="M54,193h1v1h-1zM56,183h1v6h-1zM57,173h1v1h-1zM59,170h1v10h-1zM61,167h1v16h-1zM61,235h1v2h-1zM62,234h1v1h-1zM63,234h1v1h-1zM64,178h1v1h-1zM64,224h1v1h-1zM64,226h1v8h-1zM66,176h1v1h-1zM68,229h1v4h-1zM69,180h1v2h-1zM71,234h1v5h-1zM74,177h1v1h-1zM78,179h1v1h-1zM79,230h1v1h-1zM81,229h1v1h-1zM84,172h1v4h-1zM88,170h1v1h-1zM89,237h1v1h-1zM90,230h1v3h-1zM91,236h1v1h-1zM92,174h1v5h-1zM98,228h1v1h-1zM99,230h1v1h-1zM101,178h1v1h-1zM104,179h1v1h-1zM105,179h1v1h-1zM108,184h1v1h-1zM110,178h1v1h-1zM110,229h1v6h-1zM111,176h1v1h-1zM114,231h1v4h-1zM115,182h1v3h-1zM115,235h1v1h-1zM116,234h1v1h-1zM117,176h1v1h-1zM118,166h1v10h-1zM118,238h1v1h-1zM120,230h1v5h-1zM121,235h1v1h-1zM122,232h1v1h-1zM125,159h1v1h-1zM125,232h1v14h-1zM126,159h1v1h-1zM134,166h1v10h-1zM135,180h1v1h-1zM135,245h1v1h-1zM136,183h1v1h-1zM139,236h1v1h-1zM141,174h1v1h-1zM141,232h1v5h-1zM147,172h1v17h-1zM148,176h1v1h-1zM151,172h1v4h-1zM151,230h1v1h-1zM152,229h1v1h-1zM156,231h1v1h-1zM157,228h1v1h-1zM158,184h1v1h-1zM159,182h1v3h-1zM162,187h1v2h-1zM163,239h1v1h-1zM164,240h1v1h-1zM165,240h1v1h-1zM166,180h1v1h-1zM168,235h1v1h-1zM169,226h1v9h-1zM170,178h1v1h-1zM170,233h1v1h-1zM171,178h1v1h-1zM173,178h1v6h-1zM173,232h1v1h-1zM175,245h1v1h-1zM177,238h1v1h-1zM178,238h1v1h-1zM179,182h1v1h-1zM182,175h1v1h-1zM182,226h1v2h-1zM183,228h1v5h-1zM186,170h1v3h-1zM189,172h1v1h-1zM190,165h1v12h-1zM192,224h1v4h-1zM194,177h1v3h-1zM195,175h1v1h-1zM196,175h1v1h-1zM197,183h1v1h-1zM199,174h1v5h-1zM200,179h1v2h-1zM204,180h1v1h-1zM204,229h1v1h-1zM209,237h1v4h-1z" fill="#f24444" fill-opacity="0.10"/><path d="M54,221h1v1h-1zM58,233h1v8h-1zM60,236h1v1h-1zM61,228h1v7h-1zM63,179h1v1h-1zM64,221h1v3h-1zM65,173h1v1h-1zM65,232h1v1h-1zM66,230h1v1h-1zM67,178h1v3h-1zM68,171h1v1h-1zM69,242h1v17h-1zM71,183h1v1h-1zM71,233h1v1h-1zM72,238h1v1h-1zM75,177h1v5h-1zM77,174h1v6h-1zM79,178h1v1h-1zM81,175h1v1h-1zM82,174h1v1h-1zM85,236h1v1h-1zM89,173h1v1h-1zM92,179h1v3h-1zM92,227h1v2h-1zM95,178h1v1h-1zM96,168h1v1h-1zM97,168h1v11h-1zM97,223h1v1h-1zM99,180h1v1h-1zM102,172h1v6h-1zM103,237h1v5h-1zM104,180h1v2h-1zM106,184h1v1h-1zM107,234h1v17h-1zM110,179h1v3h-1zM111,177h1v1h-1zM111,235h1v1h-1zM112,176h1v1h-1zM113,180h1v1h-1zM114,185h1v1h-1zM114,230h1v1h-1zM115,185h1v2h-1zM116,181h1v1h-1zM117,243h1v1h-1zM118,229h1v9h-1zM119,238h1v1h-1zM121,177h1v2h-1zM123,179h1v1h-1zM124,223h1v2h-1zM126,160h1v8h-1zM127,164h1v1h-1zM127,233h1v1h-1zM128,243h1v1h-1zM129,237h1v1h-1zM130,235h1v1h-1zM135,181h1v2h-1zM136,231h1v1h-1zM138,179h1v1h-1zM139,181h1v1h-1zM142,228h1v1h-1zM143,228h1v1h-1zM144,229h1v2h-1zM145,174h1v1h-1zM146,171h1v1h-1zM150,235h1v1h-1zM152,166h1v1h-1zM153,230h1v1h-1zM154,170h1v8h-1zM154,252h1v1h-1zM155,235h1v1h-1zM156,170h1v1h-1zM158,185h1v2h-1zM158,236h1v1h-1zM160,157h1v16h-1zM164,179h1v1h-1zM165,233h1v7h-1zM168,166h1v9h-1zM170,226h1v7h-1zM171,179h1v2h-1zM171,233h1v1h-1zM173,184h1v3h-1zM174,169h1v4h-1zM174,240h1v1h-1zM176,180h1v1h-1zM177,183h1v2h-1zM177,233h1v5h-1zM178,186h1v3h-1zM179,232h1v6h-1zM180,168h1v14h-1zM182,176h1v8h-1zM186,173h1v9h-1zM187,173h1v1h-1zM188,179h1v1h-1zM188,232h1v15h-1zM190,177h1v5h-1zM192,171h1v8h-1zM193,240h1v1h-1zM195,238h1v1h-1zM196,176h1v1h-1zM196,239h1v2h-1zM198,228h1v1h-1zM200,181h1v1h-1zM200,233h1v5h-1zM201,181h1v1h-1zM202,183h1v3h-1zM203,242h1v1h-1zM204,181h1v2h-1zM204,227h1v2h-1zM206,230h1v28h-1zM207,230h1v4h-1zM209,236h1v1h-1z" fill="#f24444" fill-opacity="0.20"/><path d="M56,189h1v1h-1zM56,233h1v1h-1zM59,240h1v1h-1zM61,227h1v1h-1zM64,220h1v1h-1zM70,258h1v1h-1zM76,174h1v1h-1zM82,235h1v1h-1zM83,179h1v1h-1zM86,178h1v1h-1zM91,174h1v1h-1zM98,167h1v1h-1zM99,181h1v1h-1zM102,178h1v1h-1zM104,241h1v1h-1zM105,226h1v1h-1zM107,233h1v1h-1zM108,250h1v1h-1zM109,231h1v1h-1zM110,182h1v1h-1zM119,166h1v1h-1zM120,177h1v1h-1zM122,172h1v1h-1zM123,237h1v1h-1zM126,168h1v1h-1zM128,173h1v1h-1zM131,235h1v1h-1zM132,177h1v1h-1zM132,230h1v1h-1zM135,183h1v1h-1zM141,231h1v1h-1zM144,178h1v1h-1zM145,230h1v1h-1zM149,239h1v1h-1zM153,174h1v1h-1zM155,170h1v1h-1zM159,228h1v1h-1zM160,173h1v1h-1zM161,157h1v1h-1zM162,233h1v1h-1zM165,232h1v1h-1zM169,225h1v1h-1zM173,187h1v1h-1zM177,185h1v1h-1zM177,232h1v1h-1zM180,182h1v1h-1zM185,230h1v1h-1zM186,182h1v1h-1zM186,233h1v1h-1zM189,246h1v1h-1zM191,165h1v1h-1zM192,179h1v1h-1zM192,223h1v1h-1zM194,226h1v1h-1zM197,240h1v1h-1zM201,237h1v1h-1zM202,227h1v1h-1zM204,183h1v1h-1zM204,226h1v1h-1zM206,229h1v1h-1zM207,229h1v1h-1zM208,233h1v1h-1zM210,182h1v1h-1z" fill="#f24444" fill-opacity="0.30"/><path d="M54,194h1v27h-1zM56,226h1v7h-1zM57,236h1v1h-1zM59,180h1v1h-1zM59,231h1v9h-1zM60,167h1v1h-1zM62,179h1v6h-1zM67,181h1v1h-1zM69,182h1v1h-1zM69,241h1v1h-1zM70,180h1v1h-1zM70,235h1v23h-1zM72,183h1v1h-1zM73,159h1v1h-1zM74,178h1v1h-1zM76,175h1v2h-1zM77,180h1v1h-1zM78,180h1v2h-1zM79,227h1v3h-1zM80,174h1v1h-1zM85,230h1v6h-1zM87,230h1v1h-1zM88,237h1v1h-1zM89,236h1v1h-1zM90,229h1v1h-1zM93,173h1v1h-1zM94,228h1v1h-1zM96,169h1v12h-1zM96,240h1v1h-1zM97,179h1v1h-1zM98,226h1v2h-1zM100,173h1v1h-1zM101,228h1v1h-1zM102,179h1v3h-1zM102,241h1v1h-1zM103,172h1v10h-1zM103,236h1v1h-1zM104,182h1v1h-1zM104,234h1v7h-1zM105,180h1v4h-1zM107,225h1v8h-1zM108,226h1v24h-1zM111,178h1v1h-1zM112,177h1v4h-1zM112,229h1v1h-1zM114,186h1v1h-1zM117,177h1v6h-1zM118,176h1v1h-1zM118,226h1v3h-1zM119,227h1v11h-1zM120,178h1v2h-1zM124,173h1v1h-1zM125,160h1v21h-1zM125,231h1v1h-1zM128,174h1v11h-1zM131,230h1v5h-1zM133,166h1v1h-1zM134,250h1v1h-1zM135,184h1v1h-1zM137,245h1v1h-1zM139,228h1v8h-1zM140,179h1v1h-1zM141,228h1v3h-1zM142,176h1v1h-1zM142,225h1v3h-1zM144,228h1v1h-1zM145,224h1v6h-1zM148,230h1v8h-1zM151,176h1v1h-1zM154,178h1v1h-1zM155,171h1v14h-1zM157,180h1v1h-1zM157,227h1v1h-1zM161,158h1v19h-1zM164,234h1v6h-1zM165,226h1v6h-1zM166,181h1v1h-1zM169,166h1v11h-1zM170,179h1v5h-1zM172,178h1v1h-1zM172,246h1v1h-1zM175,169h1v11h-1zM177,228h1v4h-1zM179,231h1v1h-1zM181,168h1v6h-1zM182,184h1v1h-1zM182,225h1v1h-1zM185,170h1v1h-1zM186,183h1v1h-1zM188,223h1v9h-1zM189,238h1v8h-1zM190,228h1v8h-1zM192,218h1v5h-1zM193,171h1v15h-1zM194,225h1v1h-1zM195,176h1v1h-1zM195,228h1v10h-1zM196,238h1v1h-1zM197,222h1v18h-1zM200,227h1v6h-1zM205,234h1v24h-1zM206,170h1v1h-1zM207,177h1v1h-1zM208,232h1v1h-1zM210,240h1v1h-1z" fill="#f24444" fill-opacity="0.40"/><path d="M55,240h1v1h-1zM58,170h1v10h-1zM58,232h1v1h-1zM59,181h1v1h-1zM60,168h1v14h-1zM60,231h1v5h-1zM61,226h1v1h-1zM62,227h1v7h-1zM63,180h1v1h-1zM63,227h1v7h-1zM64,219h1v1h-1zM66,177h1v5h-1zM67,248h1v1h-1zM69,233h1v8h-1zM70,181h1v2h-1zM70,228h1v7h-1zM72,226h1v12h-1zM73,232h1v1h-1zM74,179h1v3h-1zM74,232h1v1h-1zM75,231h1v1h-1zM77,181h1v1h-1zM78,226h1v1h-1zM79,226h1v1h-1zM81,226h1v3h-1zM85,166h1v1h-1zM85,229h1v1h-1zM87,170h1v1h-1zM87,225h1v5h-1zM88,225h1v12h-1zM90,174h1v1h-1zM90,227h1v2h-1zM91,175h1v4h-1zM93,222h1v5h-1zM95,179h1v1h-1zM95,223h1v1h-1zM98,225h1v1h-1zM100,229h1v1h-1zM101,179h1v1h-1zM101,227h1v1h-1zM102,182h1v1h-1zM104,183h1v1h-1zM104,227h1v7h-1zM106,185h1v4h-1zM106,238h1v1h-1zM107,184h1v1h-1zM109,176h1v1h-1zM111,230h1v5h-1zM114,229h1v1h-1zM115,233h1v2h-1zM116,182h1v1h-1zM116,233h1v1h-1zM119,167h1v6h-1zM125,181h1v1h-1zM126,226h1v20h-1zM128,185h1v1h-1zM129,172h1v1h-1zM132,178h1v9h-1zM133,167h1v10h-1zM133,229h1v1h-1zM135,185h1v1h-1zM136,227h1v4h-1zM137,175h1v1h-1zM138,180h1v1h-1zM139,182h1v3h-1zM140,236h1v1h-1zM142,177h1v1h-1zM146,172h1v7h-1zM147,189h1v1h-1zM148,229h1v1h-1zM150,172h1v12h-1zM151,177h1v7h-1zM152,228h1v1h-1zM153,175h1v6h-1zM154,227h1v3h-1zM159,227h1v1h-1zM161,241h1v1h-1zM163,178h1v1h-1zM164,226h1v8h-1zM165,177h1v1h-1zM167,179h1v1h-1zM167,237h1v1h-1zM168,175h1v1h-1zM168,233h1v2h-1zM169,177h1v1h-1zM169,222h1v3h-1zM170,184h1v1h-1zM170,225h1v1h-1zM171,229h1v4h-1zM172,179h1v5h-1zM174,173h1v1h-1zM174,224h1v16h-1zM175,180h1v1h-1zM176,181h1v1h-1zM176,229h1v1h-1zM179,183h1v1h-1zM179,230h1v1h-1zM180,183h1v3h-1zM180,225h1v6h-1zM183,181h1v1h-1zM184,176h1v1h-1zM184,233h1v1h-1zM185,171h1v12h-1zM187,174h1v11h-1zM187,227h1v5h-1zM188,222h1v1h-1zM190,182h1v1h-1zM191,166h1v10h-1zM192,180h1v5h-1zM194,224h1v1h-1zM195,223h1v3h-1zM195,227h1v1h-1zM196,177h1v1h-1zM196,228h1v10h-1zM197,221h1v1h-1zM198,174h1v11h-1zM200,223h1v4h-1zM201,182h1v1h-1zM201,236h1v1h-1zM203,179h1v1h-1zM205,178h1v1h-1zM206,224h1v5h-1zM208,181h1v1h-1zM209,175h1v1h-1zM210,226h1v14h-1z" fill="#f24444" fill-opacity="0.50"/><path d="M55,179h1v9h-1zM55,226h1v14h-1zM57,174h1v9h-1zM57,234h1v2h-1zM58,180h1v1h-1zM60,182h1v1h-1zM61,183h1v2h-1zM64,179h1v3h-1zM65,174h1v3h-1zM65,225h1v7h-1zM66,229h1v1h-1zM67,241h1v7h-1zM68,172h1v6h-1zM70,183h1v1h-1zM70,227h1v1h-1zM71,184h1v1h-1zM71,228h1v5h-1zM73,160h1v17h-1zM73,223h1v9h-1zM74,229h1v3h-1zM75,229h1v2h-1zM76,177h1v1h-1zM76,236h1v2h-1zM77,232h1v13h-1zM78,225h1v1h-1zM79,179h1v1h-1zM80,175h1v3h-1zM80,231h1v13h-1zM81,176h1v3h-1zM82,175h1v4h-1zM82,230h1v5h-1zM83,180h1v3h-1zM83,237h1v1h-1zM84,237h1v2h-1zM85,167h1v17h-1zM86,179h1v6h-1zM86,231h1v10h-1zM87,171h1v3h-1zM88,171h1v13h-1zM88,224h1v1h-1zM89,174h1v4h-1zM90,175h1v3h-1zM90,226h1v1h-1zM91,179h1v1h-1zM91,232h1v4h-1zM92,182h1v1h-1zM92,223h1v4h-1zM93,174h1v5h-1zM93,219h1v3h-1zM94,173h1v5h-1zM96,181h1v3h-1zM96,223h1v17h-1zM98,168h1v14h-1zM99,229h1v1h-1zM100,174h1v5h-1zM100,227h1v2h-1zM103,182h1v1h-1zM103,229h1v7h-1zM106,227h1v11h-1zM107,185h1v3h-1zM109,177h1v4h-1zM109,225h1v6h-1zM111,179h1v7h-1zM111,229h1v1h-1zM112,181h1v1h-1zM113,224h1v5h-1zM116,183h1v3h-1zM117,218h1v25h-1zM119,226h1v1h-1zM121,179h1v1h-1zM121,232h1v3h-1zM122,173h1v7h-1zM123,180h1v2h-1zM123,224h1v13h-1zM124,174h1v8h-1zM124,222h1v1h-1zM127,165h1v13h-1zM127,225h1v8h-1zM128,186h1v2h-1zM128,236h1v7h-1zM129,235h1v2h-1zM130,164h1v19h-1zM130,232h1v3h-1zM131,184h1v1h-1zM131,229h1v1h-1zM132,227h1v1h-1zM133,177h1v1h-1zM134,224h1v26h-1zM135,227h1v18h-1zM136,225h1v2h-1zM137,176h1v10h-1zM137,232h1v13h-1zM138,181h1v3h-1zM138,227h1v3h-1zM139,185h1v1h-1zM139,227h1v1h-1zM140,180h1v2h-1zM141,175h1v3h-1zM141,227h1v1h-1zM143,174h1v2h-1zM145,175h1v4h-1zM146,230h1v1h-1zM147,190h1v2h-1zM148,177h1v5h-1zM148,225h1v4h-1zM149,176h1v6h-1zM149,231h1v8h-1zM150,184h1v1h-1zM150,227h1v8h-1zM151,229h1v1h-1zM152,167h1v7h-1zM153,181h1v1h-1zM154,179h1v4h-1zM154,230h1v22h-1zM155,233h1v2h-1zM156,171h1v14h-1zM157,181h1v1h-1zM158,226h1v10h-1zM159,185h1v3h-1zM160,174h1v7h-1zM160,229h1v5h-1zM162,189h1v3h-1zM162,227h1v6h-1zM163,179h1v6h-1zM163,234h1v5h-1zM165,178h1v2h-1zM166,227h1v7h-1zM167,180h1v5h-1zM167,225h1v12h-1zM169,221h1v1h-1zM170,185h1v1h-1zM172,230h1v16h-1zM173,231h1v1h-1zM175,181h1v3h-1zM175,241h1v4h-1zM176,228h1v1h-1zM179,229h1v1h-1zM180,219h1v6h-1zM181,222h1v8h-1zM182,185h1v3h-1zM183,182h1v2h-1zM183,223h1v5h-1zM184,177h1v5h-1zM184,231h1v2h-1zM185,183h1v1h-1zM186,232h1v1h-1zM187,226h1v1h-1zM188,180h1v5h-1zM189,173h1v9h-1zM190,183h1v3h-1zM190,227h1v1h-1zM193,228h1v12h-1zM195,226h1v1h-1zM197,184h1v1h-1zM198,227h1v1h-1zM202,186h1v1h-1zM203,230h1v12h-1zM204,225h1v1h-1zM205,179h1v6h-1zM206,171h1v11h-1zM206,223h1v1h-1zM207,178h1v2h-1zM207,226h1v3h-1zM209,176h1v5h-1zM210,183h1v2h-1zM210,212h1v13h-1z" fill="#f24444" fill-opacity="0.60"/><path d="M55,188h1v1h-1zM59,182h1v1h-1zM59,230h1v1h-1zM60,230h1v1h-1zM61,185h1v1h-1zM62,226h1v1h-1zM64,182h1v1h-1zM68,178h1v1h-1zM72,225h1v1h-1zM73,177h1v1h-1zM73,222h1v1h-1zM74,182h1v1h-1zM74,228h1v1h-1zM75,228h1v1h-1zM78,182h1v1h-1zM80,178h1v1h-1zM80,230h1v1h-1zM82,179h1v1h-1zM82,229h1v1h-1zM83,183h1v1h-1zM83,236h1v1h-1zM84,176h1v1h-1zM84,236h1v1h-1zM86,230h1v1h-1zM87,174h1v1h-1zM87,224h1v1h-1zM88,184h1v1h-1zM89,178h1v1h-1zM90,178h1v1h-1zM94,178h1v1h-1zM94,227h1v1h-1zM97,180h1v1h-1zM97,222h1v1h-1zM99,228h1v1h-1zM100,179h1v1h-1zM101,180h1v1h-1zM102,240h1v1h-1zM103,228h1v1h-1zM105,225h1v1h-1zM106,189h1v1h-1zM106,226h1v1h-1zM107,188h1v1h-1zM109,181h1v1h-1zM113,181h1v1h-1zM113,223h1v1h-1zM114,228h1v1h-1zM116,186h1v1h-1zM116,232h1v1h-1zM117,217h1v1h-1zM120,229h1v1h-1zM122,231h1v1h-1zM123,182h1v1h-1zM123,223h1v1h-1zM124,182h1v1h-1zM126,225h1v1h-1zM127,178h1v1h-1zM127,224h1v1h-1zM129,173h1v1h-1zM130,231h1v1h-1zM132,187h1v1h-1zM132,228h1v2h-1zM133,178h1v1h-1zM133,228h1v1h-1zM134,176h1v1h-1zM135,186h1v1h-1zM136,184h1v1h-1zM136,224h1v1h-1zM137,231h1v1h-1zM140,182h1v1h-1zM140,221h1v1h-1zM143,176h1v1h-1zM143,227h1v1h-1zM144,179h1v1h-1zM146,229h1v1h-1zM147,229h1v1h-1zM149,182h1v1h-1zM149,230h1v1h-1zM150,226h1v1h-1zM152,174h1v1h-1zM153,229h1v1h-1zM154,226h1v1h-1zM155,232h1v1h-1zM157,182h1v1h-1zM159,188h1v1h-1zM160,228h1v1h-1zM161,240h1v1h-1zM165,180h1v1h-1zM165,225h1v1h-1zM166,226h1v1h-1zM167,185h1v1h-1zM167,224h1v1h-1zM170,186h1v1h-1zM171,228h1v1h-1zM172,184h1v1h-1zM173,230h1v1h-1zM175,240h1v1h-1zM177,227h1v1h-1zM181,174h1v1h-1zM183,184h1v1h-1zM184,230h1v1h-1zM185,229h1v1h-1zM186,184h1v1h-1zM186,231h1v1h-1zM194,180h1v1h-1zM194,223h1v1h-1zM197,185h1v1h-1zM198,226h1v1h-1zM203,180h1v1h-1zM203,229h1v1h-1zM204,224h1v1h-1zM205,233h1v1h-1zM207,180h1v1h-1zM209,181h1v1h-1zM210,185h1v1h-1zM210,211h1v1h-1zM210,225h1v1h-1z" fill="#f24444" fill-opacity="0.70"/><path d="M56,190h1v2h-1zM57,183h1v1h-1zM57,233h1v1h-1zM59,183h1v12h-1zM59,221h1v9h-1zM60,228h1v2h-1zM61,186h1v1h-1zM61,223h1v3h-1zM62,185h1v1h-1zM63,226h1v1h-1zM65,177h1v1h-1zM65,224h1v1h-1zM66,224h1v5h-1zM67,230h1v11h-1zM68,179h1v5h-1zM68,225h1v4h-1zM69,183h1v4h-1zM70,184h1v5h-1zM71,227h1v1h-1zM72,184h1v5h-1zM75,182h1v1h-1zM75,221h1v7h-1zM76,229h1v7h-1zM78,223h1v2h-1zM79,180h1v3h-1zM79,225h1v1h-1zM80,179h1v2h-1zM80,226h1v4h-1zM81,179h1v1h-1zM81,225h1v1h-1zM82,180h1v3h-1zM82,226h1v3h-1zM84,225h1v2h-1zM84,229h1v7h-1zM86,229h1v1h-1zM87,175h1v10h-1zM88,222h1v2h-1zM89,233h1v3h-1zM90,179h1v1h-1zM91,231h1v1h-1zM92,222h1v1h-1zM94,179h1v3h-1zM95,180h1v1h-1zM96,184h1v1h-1zM96,222h1v1h-1zM97,181h1v3h-1zM97,218h1v4h-1zM98,182h1v1h-1zM99,182h1v9h-1zM100,180h1v1h-1zM100,226h1v1h-1zM101,181h1v8h-1zM102,183h1v1h-1zM102,229h1v11h-1zM103,183h1v4h-1zM103,220h1v8h-1zM105,184h1v1h-1zM105,224h1v1h-1zM107,224h1v1h-1zM108,225h1v1h-1zM109,224h1v1h-1zM110,228h1v1h-1zM111,226h1v3h-1zM112,182h1v2h-1zM113,182h1v3h-1zM115,187h1v1h-1zM115,232h1v1h-1zM116,231h1v1h-1zM117,183h1v1h-1zM117,216h1v1h-1zM118,225h1v1h-1zM120,180h1v1h-1zM120,228h1v1h-1zM121,231h1v1h-1zM122,222h1v9h-1zM123,183h1v1h-1zM123,222h1v1h-1zM124,183h1v4h-1zM125,182h1v8h-1zM125,229h1v2h-1zM127,179h1v6h-1zM127,217h1v7h-1zM128,188h1v1h-1zM128,230h1v6h-1zM129,174h1v12h-1zM130,183h1v1h-1zM131,185h1v1h-1zM133,179h1v2h-1zM133,224h1v4h-1zM134,177h1v4h-1zM134,223h1v1h-1zM135,219h1v8h-1zM136,185h1v2h-1zM136,222h1v2h-1zM137,224h1v7h-1zM140,183h1v3h-1zM140,220h1v1h-1zM140,222h1v5h-1zM140,234h1v2h-1zM141,178h1v1h-1zM141,224h1v3h-1zM142,178h1v1h-1zM143,177h1v3h-1zM143,226h1v1h-1zM144,226h1v2h-1zM145,179h1v1h-1zM146,179h1v1h-1zM146,224h1v5h-1zM147,227h1v2h-1zM149,223h1v7h-1zM150,185h1v1h-1zM152,175h1v1h-1zM152,227h1v1h-1zM153,224h1v5h-1zM154,183h1v1h-1zM154,224h1v2h-1zM155,185h1v1h-1zM156,185h1v1h-1zM156,229h1v2h-1zM157,183h1v1h-1zM157,225h1v2h-1zM158,187h1v1h-1zM159,189h1v2h-1zM159,226h1v1h-1zM160,181h1v1h-1zM160,224h1v4h-1zM162,192h1v1h-1zM162,225h1v2h-1zM163,185h1v1h-1zM163,233h1v1h-1zM164,180h1v1h-1zM164,221h1v3h-1zM164,225h1v1h-1zM165,181h1v3h-1zM166,182h1v4h-1zM168,227h1v6h-1zM170,187h1v5h-1zM171,181h1v1h-1zM172,229h1v1h-1zM174,223h1v1h-1zM175,239h1v1h-1zM176,182h1v1h-1zM176,227h1v1h-1zM177,186h1v2h-1zM177,219h1v8h-1zM178,189h1v1h-1zM178,235h1v3h-1zM179,226h1v3h-1zM181,219h1v3h-1zM182,224h1v1h-1zM183,185h1v1h-1zM183,222h1v1h-1zM184,222h1v8h-1zM185,184h1v1h-1zM187,185h1v1h-1zM187,225h1v1h-1zM188,185h1v1h-1zM188,221h1v1h-1zM189,182h1v1h-1zM189,236h1v2h-1zM190,186h1v1h-1zM190,225h1v2h-1zM191,227h1v1h-1zM192,185h1v1h-1zM192,217h1v1h-1zM193,227h1v1h-1zM194,181h1v2h-1zM194,220h1v3h-1zM196,178h1v9h-1zM196,222h1v2h-1zM196,227h1v1h-1zM197,186h1v1h-1zM197,220h1v1h-1zM198,185h1v1h-1zM198,222h1v4h-1zM199,179h1v1h-1zM199,226h1v1h-1zM202,223h1v4h-1zM203,181h1v2h-1zM203,227h1v2h-1zM204,184h1v1h-1zM205,185h1v1h-1zM206,182h1v9h-1zM206,218h1v5h-1zM209,182h1v6h-1zM209,233h1v3h-1zM210,186h1v25h-1z" fill="#f24444" fill-opacity="0.80"/><path d="M55,189h1v5h-1zM55,221h1v5h-1zM56,192h1v2h-1zM57,184h1v3h-1zM57,220h1v13h-1zM58,181h1v4h-1zM58,226h1v6h-1zM59,195h1v1h-1zM60,227h1v1h-1zM61,222h1v1h-1zM62,186h1v4h-1zM63,181h1v3h-1zM64,183h1v1h-1zM64,215h1v4h-1zM65,178h1v1h-1zM67,182h1v7h-1zM68,184h1v7h-1zM68,223h1v2h-1zM69,232h1v1h-1zM71,185h1v5h-1zM71,223h1v4h-1zM72,221h1v4h-1zM73,178h1v11h-1zM74,225h1v3h-1zM76,221h1v8h-1zM77,182h1v6h-1zM77,230h1v2h-1zM78,216h1v7h-1zM79,183h1v5h-1zM79,218h1v7h-1zM80,181h1v1h-1zM80,225h1v1h-1zM81,180h1v2h-1zM81,223h1v2h-1zM82,183h1v1h-1zM82,225h1v1h-1zM83,230h1v6h-1zM84,224h1v1h-1zM84,227h1v2h-1zM85,184h1v1h-1zM87,220h1v4h-1zM89,223h1v10h-1zM90,180h1v4h-1zM91,180h1v1h-1zM91,230h1v1h-1zM92,183h1v3h-1zM93,179h1v1h-1zM93,218h1v1h-1zM97,184h1v1h-1zM97,217h1v1h-1zM98,183h1v3h-1zM99,191h1v1h-1zM99,222h1v6h-1zM100,181h1v1h-1zM100,221h1v5h-1zM101,189h1v3h-1zM101,226h1v1h-1zM103,219h1v1h-1zM104,184h1v4h-1zM104,226h1v1h-1zM106,225h1v1h-1zM107,221h1v3h-1zM108,185h1v2h-1zM109,182h1v1h-1zM110,183h1v1h-1zM110,225h1v3h-1zM111,186h1v1h-1zM111,222h1v4h-1zM112,184h1v1h-1zM113,222h1v1h-1zM114,224h1v4h-1zM115,188h1v1h-1zM115,222h1v10h-1zM116,187h1v3h-1zM117,184h1v1h-1zM118,177h1v1h-1zM119,173h1v1h-1zM119,224h1v2h-1zM120,181h1v6h-1zM120,225h1v3h-1zM121,180h1v8h-1zM122,220h1v2h-1zM123,184h1v1h-1zM124,187h1v6h-1zM124,220h1v2h-1zM125,190h1v3h-1zM126,169h1v6h-1zM126,224h1v1h-1zM127,185h1v1h-1zM128,189h1v1h-1zM128,229h1v1h-1zM129,226h1v9h-1zM130,184h1v2h-1zM131,186h1v1h-1zM132,188h1v5h-1zM132,226h1v1h-1zM133,181h1v7h-1zM133,223h1v1h-1zM135,216h1v3h-1zM137,186h1v1h-1zM137,214h1v10h-1zM138,224h1v3h-1zM139,186h1v3h-1zM139,222h1v5h-1zM140,227h1v7h-1zM141,179h1v3h-1zM143,225h1v1h-1zM144,180h1v3h-1zM144,225h1v1h-1zM145,180h1v3h-1zM145,222h1v2h-1zM146,180h1v3h-1zM146,222h1v2h-1zM147,192h1v3h-1zM148,182h1v8h-1zM148,223h1v2h-1zM149,183h1v7h-1zM149,222h1v1h-1zM150,223h1v3h-1zM151,184h1v1h-1zM151,228h1v1h-1zM152,176h1v1h-1zM154,184h1v3h-1zM154,218h1v6h-1zM155,186h1v6h-1zM156,186h1v5h-1zM156,222h1v7h-1zM157,184h1v1h-1zM157,224h1v1h-1zM158,188h1v3h-1zM159,191h1v2h-1zM161,177h1v16h-1zM161,227h1v13h-1zM163,227h1v6h-1zM164,181h1v5h-1zM164,220h1v1h-1zM164,224h1v1h-1zM166,224h1v2h-1zM167,186h1v1h-1zM168,176h1v3h-1zM169,220h1v1h-1zM170,192h1v1h-1zM170,220h1v2h-1zM170,224h1v1h-1zM171,182h1v3h-1zM171,224h1v4h-1zM172,223h1v6h-1zM173,228h1v2h-1zM174,174h1v11h-1zM175,228h1v11h-1zM177,188h1v3h-1zM178,190h1v1h-1zM180,186h1v1h-1zM180,218h1v1h-1zM181,175h1v1h-1zM181,218h1v1h-1zM182,188h1v1h-1zM182,219h1v5h-1zM183,186h1v3h-1zM185,185h1v7h-1zM185,216h1v13h-1zM186,214h1v17h-1zM187,224h1v1h-1zM189,183h1v1h-1zM191,176h1v9h-1zM191,219h1v8h-1zM193,186h1v1h-1zM195,177h1v4h-1zM195,220h1v3h-1zM196,224h1v3h-1zM197,219h1v1h-1zM198,221h1v1h-1zM199,224h1v2h-1zM200,182h1v1h-1zM200,222h1v1h-1zM201,183h1v7h-1zM201,225h1v11h-1zM202,187h1v3h-1zM202,222h1v1h-1zM205,219h1v10h-1zM208,231h1v1h-1zM209,232h1v1h-1z" fill="#f24444" fill-opacity="0.90"/><path d="M55,194h1v27h-1zM56,194h1v32h-1zM57,187h1v33h-1zM58,185h1v41h-1zM59,196h1v25h-1zM60,183h1v44h-1zM61,187h1v35h-1zM62,190h1v36h-1zM63,184h1v42h-1zM64,184h1v31h-1zM65,179h1v45h-1zM66,182h1v42h-1zM67,189h1v41h-1zM68,191h1v32h-1zM69,187h1v45h-1zM70,189h1v38h-1zM71,190h1v33h-1zM72,189h1v32h-1zM73,189h1v33h-1zM74,183h1v42h-1zM75,183h1v38h-1zM76,178h1v43h-1zM77,188h1v42h-1zM78,183h1v33h-1zM79,188h1v30h-1zM80,182h1v43h-1zM81,182h1v41h-1zM82,184h1v41h-1zM83,184h1v46h-1zM84,177h1v47h-1zM85,185h1v44h-1zM86,185h1v44h-1zM87,185h1v35h-1zM88,185h1v37h-1zM89,179h1v44h-1zM90,184h1v42h-1zM91,181h1v49h-1zM92,186h1v36h-1zM93,180h1v38h-1zM94,182h1v45h-1zM95,181h1v42h-1zM96,185h1v37h-1zM97,185h1v32h-1zM98,186h1v39h-1zM99,192h1v30h-1zM100,182h1v39h-1zM101,192h1v34h-1zM102,184h1v45h-1zM103,187h1v32h-1zM104,188h1v38h-1zM105,185h1v39h-1zM106,190h1v35h-1zM107,189h1v32h-1zM108,187h1v38h-1zM109,183h1v41h-1zM110,184h1v41h-1zM111,187h1v35h-1zM112,185h1v44h-1zM113,185h1v37h-1zM114,187h1v37h-1zM115,189h1v33h-1zM116,190h1v41h-1zM117,185h1v31h-1zM118,178h1v47h-1zM119,174h1v50h-1zM120,187h1v38h-1zM121,188h1v43h-1zM122,180h1v40h-1zM123,185h1v37h-1zM124,193h1v27h-1zM125,193h1v36h-1zM126,175h1v49h-1zM127,186h1v31h-1zM128,190h1v39h-1zM129,186h1v40h-1zM130,186h1v45h-1zM131,187h1v42h-1zM132,193h1v33h-1zM133,188h1v35h-1zM134,181h1v42h-1zM135,187h1v29h-1zM136,187h1v35h-1zM137,187h1v27h-1zM138,184h1v40h-1zM139,189h1v33h-1zM140,186h1v34h-1zM141,182h1v42h-1zM142,179h1v46h-1zM143,180h1v45h-1zM144,183h1v42h-1zM145,183h1v39h-1zM146,183h1v39h-1zM147,195h1v32h-1zM148,190h1v33h-1zM149,190h1v32h-1zM150,186h1v37h-1zM151,185h1v43h-1zM152,177h1v50h-1zM153,182h1v42h-1zM154,187h1v31h-1zM155,192h1v40h-1zM156,191h1v31h-1zM157,185h1v39h-1zM158,191h1v35h-1zM159,193h1v33h-1zM160,182h1v42h-1zM161,193h1v34h-1zM162,193h1v32h-1zM163,186h1v41h-1zM164,186h1v34h-1zM165,184h1v41h-1zM166,186h1v38h-1zM167,187h1v37h-1zM168,179h1v48h-1zM169,178h1v42h-1zM170,193h1v27h-1zM170,222h1v2h-1zM171,185h1v39h-1zM172,185h1v38h-1zM173,188h1v40h-1zM174,185h1v38h-1zM175,184h1v44h-1zM176,183h1v44h-1zM177,191h1v28h-1zM178,191h1v44h-1zM179,184h1v42h-1zM180,187h1v31h-1zM181,176h1v42h-1zM182,189h1v30h-1zM183,189h1v33h-1zM184,182h1v40h-1zM185,192h1v24h-1zM186,185h1v29h-1zM187,186h1v38h-1zM188,186h1v35h-1zM189,184h1v52h-1zM190,187h1v38h-1zM191,185h1v34h-1zM192,186h1v31h-1zM193,187h1v40h-1zM194,183h1v37h-1zM195,181h1v39h-1zM196,187h1v35h-1zM197,187h1v32h-1zM198,186h1v35h-1zM199,180h1v44h-1zM200,183h1v39h-1zM201,190h1v35h-1zM202,190h1v32h-1zM203,183h1v44h-1zM204,185h1v39h-1zM205,186h1v33h-1zM205,229h1v4h-1zM206,191h1v27h-1zM207,181h1v45h-1zM208,182h1v49h-1zM209,188h1v44h-1z" fill="#f24444" fill-opacity="1.00"/><path d="M54.6,157.1H210.8" stroke="#808080" stroke-width="1.5" stroke-dasharray="5.7 4.72" stroke-dashoffset="3.05" fill="none"/><path d="M54.6,258.9H210.8" stroke="#8a8a8a" stroke-width="1.6" stroke-dasharray="5.7 4.72" stroke-dashoffset="3.05" fill="none"/><rect x="55.1" y="144.5" width="37.9" height="8.9" fill="#fff" stroke="#8c8c8c" stroke-width="0.6"/><line x1="55.6" y1="148.95" x2="71" y2="148.95" stroke="#f7a0a0" stroke-width="1.6"/><text x="72.9" y="150.75" font-size="6.5" fill="#111" stroke="#111" stroke-width="0.1" textLength="18.4" lengthAdjust="spacingAndGlyphs">Case 1</text><rect x="54.6" y="142.1" width="156.2" height="125.3" fill="none" stroke="#1a1a1a" stroke-width="1.05"/><path d="M54.6,267.4v2.2M54.6,142.1v2.2M67.62,267.4v1.2M67.62,142.1v1.2M80.63,267.4v2.2M80.63,142.1v2.2M93.65,267.4v1.2M93.65,142.1v1.2M106.67,267.4v2.2M106.67,142.1v2.2M119.68,267.4v1.2M119.68,142.1v1.2M132.7,267.4v2.2M132.7,142.1v2.2M145.72,267.4v1.2M145.72,142.1v1.2M158.73,267.4v2.2M158.73,142.1v2.2M171.75,267.4v1.2M171.75,142.1v1.2M184.77,267.4v2.2M184.77,142.1v2.2M197.78,267.4v1.2M197.78,142.1v1.2M210.8,267.4v2.2M210.8,142.1v2.2M54.6,142.1h-2.2M210.8,142.1h-2.2M54.6,168.4h-2.2M210.8,168.4h-2.2M54.6,194.7h-2.2M210.8,194.7h-2.2M54.6,221h-2.2M210.8,221h-2.2M54.6,247.3h-2.2M210.8,247.3h-2.2M54.6,155.2h-1.2M210.8,155.2h-1.2M54.6,181.5h-1.2M210.8,181.5h-1.2M54.6,207.8h-1.2M210.8,207.8h-1.2M54.6,234.1h-1.2M210.8,234.1h-1.2M54.6,260.4h-1.2M210.8,260.4h-1.2" stroke="#1a1a1a" stroke-width="0.8" fill="none"/><text x="54.6" y="281.2" font-size="9" fill="#222" stroke="#222" stroke-width="0.08" text-anchor="middle">0</text><text x="80.63" y="281.2" font-size="9" fill="#222" stroke="#222" stroke-width="0.08" text-anchor="middle">1200</text><text x="106.67" y="281.2" font-size="9" fill="#222" stroke="#222" stroke-width="0.08" text-anchor="middle">2400</text><text x="132.7" y="281.2" font-size="9" fill="#222" stroke="#222" stroke-width="0.08" text-anchor="middle">3600</text><text x="158.73" y="281.2" font-size="9" fill="#222" stroke="#222" stroke-width="0.08" text-anchor="middle">4800</text><text x="184.77" y="281.2" font-size="9" fill="#222" stroke="#222" stroke-width="0.08" text-anchor="middle">6000</text><text x="210.8" y="281.2" font-size="9" fill="#222" stroke="#222" stroke-width="0.08" text-anchor="middle">7200</text><text x="47.2" y="145.3" font-size="9" fill="#222" stroke="#222" stroke-width="0.08" text-anchor="end">176.240</text><text x="47.2" y="171.6" font-size="9" fill="#222" stroke="#222" stroke-width="0.08" text-anchor="end">176.238</text><text x="47.2" y="197.9" font-size="9" fill="#222" stroke="#222" stroke-width="0.08" text-anchor="end">176.236</text><text x="47.2" y="224.2" font-size="9" fill="#222" stroke="#222" stroke-width="0.08" text-anchor="end">176.234</text><text x="47.2" y="250.5" font-size="9" fill="#222" stroke="#222" stroke-width="0.08" text-anchor="end">176.232</text><text x="131.7" y="294.9" font-size="9.1" fill="#222" stroke="#222" stroke-width="0.08" text-anchor="middle">Time (s)</text><text transform="translate(9,202.2) rotate(-90)" font-size="8.8" fill="#222" stroke="#222" stroke-width="0.06" text-anchor="middle">Phase difference (degree)</text><text x="194.3" y="154.6" font-size="7.35" fill="#222" stroke="#222" stroke-width="0.05" text-anchor="end">&lt;0.0077</text><path d="M199.9,148.5V152.9" stroke="#000" stroke-width="0.9"/><path d="M197.8,150.8 L199.9,156.4 L202,150.8 L199.9,152.1Z" fill="#000"/><text x="120.6" y="265.8" font-size="7.2" fill="#222" stroke="#222" stroke-width="0.05">mean value:176.2353</text><path d="M199.7,267V263.1" stroke="#000" stroke-width="0.9"/><path d="M197.6,265.2 L199.7,259.6 L201.8,265.2 L199.7,263.9Z" fill="#000"/><text x="231.5" y="145.2" font-size="14.8" font-weight="bold" fill="#000">d</text><path d="M299.59,141.4V267.4M325.58,141.4V267.4M351.56,141.4V267.4M377.54,141.4V267.4M403.53,141.4V267.4M429.51,141.4V267.4M286.6,160.85H442.5M286.6,185.95H442.5M286.6,211.05H442.5M286.6,236.15H442.5M286.6,261.25H442.5" stroke="#e6e6e6" stroke-width="0.7" fill="none"/><path d="M312.58,141.4V267.4M338.57,141.4V267.4M364.55,141.4V267.4M390.53,141.4V267.4M416.52,141.4V267.4M286.6,148.3H442.5M286.6,173.4H442.5M286.6,198.5H442.5M286.6,223.6H442.5M286.6,248.7H442.5" stroke="#c2c2c2" stroke-width="0.7" fill="none"/><path d="M286,207h1v2h-1zM288,181h1v18h-1zM291,242h1v1h-1zM292,194h1v1h-1zM293,253h1v1h-1zM295,185h1v1h-1zM299,192h1v1h-1zM300,196h1v1h-1zM303,250h1v2h-1zM304,247h1v1h-1zM308,247h1v2h-1zM309,187h1v1h-1zM310,247h1v9h-1zM311,195h1v1h-1zM312,240h1v1h-1zM313,181h1v1h-1zM313,250h1v1h-1zM315,252h1v1h-1zM316,190h1v3h-1zM320,248h1v1h-1zM322,196h1v1h-1zM322,245h1v1h-1zM327,240h1v3h-1zM328,244h1v1h-1zM329,182h1v1h-1zM330,253h1v1h-1zM331,184h1v1h-1zM331,253h1v1h-1zM332,253h1v1h-1zM337,237h1v9h-1zM338,181h1v1h-1zM339,182h1v5h-1zM339,242h1v1h-1zM342,191h1v1h-1zM343,184h1v1h-1zM343,243h1v1h-1zM346,247h1v1h-1zM347,182h1v13h-1zM347,248h1v1h-1zM350,237h1v1h-1zM353,254h1v1h-1zM356,239h1v2h-1zM358,252h1v1h-1zM360,242h1v1h-1zM362,197h1v4h-1zM364,235h1v1h-1zM367,237h1v8h-1zM376,250h1v2h-1zM377,184h1v1h-1zM378,184h1v1h-1zM379,187h1v1h-1zM381,189h1v1h-1zM381,238h1v11h-1zM383,187h1v4h-1zM384,194h1v2h-1zM384,237h1v1h-1zM385,250h1v3h-1zM387,239h1v14h-1zM388,256h1v1h-1zM390,246h1v1h-1zM393,183h1v1h-1zM395,240h1v12h-1zM398,184h1v4h-1zM399,183h1v1h-1zM399,239h1v1h-1zM401,188h1v7h-1zM404,192h1v1h-1zM406,247h1v2h-1zM407,251h1v1h-1zM408,189h1v1h-1zM409,258h1v1h-1zM412,187h1v1h-1zM413,187h1v1h-1zM413,242h1v5h-1zM414,252h1v1h-1zM417,248h1v7h-1zM418,186h1v1h-1zM419,246h1v1h-1zM421,185h1v1h-1zM422,252h1v1h-1zM424,247h1v5h-1zM427,198h1v2h-1zM427,241h1v10h-1zM429,187h1v11h-1zM429,250h1v1h-1zM430,191h1v1h-1zM430,245h1v1h-1zM431,247h1v1h-1zM432,192h1v1h-1zM432,241h1v12h-1zM433,253h1v1h-1zM435,172h1v11h-1zM439,182h1v1h-1zM440,191h1v2h-1zM440,242h1v1h-1zM442,198h1v3h-1z" fill="#1f70dd" fill-opacity="0.10"/><path d="M286,209h1v12h-1zM286,236h1v16h-1zM289,181h1v1h-1zM289,252h1v1h-1zM290,184h1v3h-1zM290,251h1v1h-1zM291,187h1v1h-1zM291,238h1v4h-1zM294,196h1v3h-1zM295,247h1v1h-1zM296,244h1v1h-1zM297,159h1v25h-1zM297,241h1v12h-1zM298,184h1v12h-1zM298,252h1v1h-1zM300,197h1v3h-1zM302,254h1v1h-1zM303,249h1v1h-1zM304,181h1v5h-1zM304,246h1v1h-1zM307,241h1v1h-1zM310,240h1v4h-1zM311,196h1v1h-1zM314,252h1v1h-1zM315,185h1v1h-1zM315,236h1v16h-1zM318,255h1v1h-1zM319,253h1v1h-1zM320,188h1v1h-1zM321,179h1v1h-1zM321,244h1v1h-1zM323,177h1v1h-1zM324,189h1v1h-1zM324,241h1v5h-1zM325,198h1v1h-1zM325,251h1v1h-1zM326,183h1v11h-1zM328,174h1v1h-1zM329,183h1v10h-1zM329,241h1v1h-1zM331,250h1v3h-1zM335,197h1v1h-1zM335,244h1v1h-1zM336,194h1v7h-1zM337,186h1v1h-1zM337,236h1v1h-1zM340,187h1v5h-1zM342,243h1v1h-1zM343,185h1v7h-1zM343,236h1v7h-1zM344,184h1v1h-1zM344,236h1v2h-1zM344,252h1v1h-1zM346,194h1v1h-1zM348,182h1v1h-1zM349,246h1v7h-1zM352,252h1v3h-1zM353,189h1v1h-1zM355,189h1v1h-1zM355,251h1v1h-1zM356,186h1v1h-1zM358,189h1v10h-1zM361,262h1v1h-1zM363,197h1v1h-1zM364,189h1v1h-1zM365,187h1v1h-1zM365,244h1v1h-1zM366,187h1v1h-1zM367,185h1v1h-1zM367,236h1v1h-1zM368,246h1v1h-1zM370,191h1v1h-1zM370,236h1v17h-1zM374,241h1v3h-1zM375,197h1v1h-1zM375,251h1v1h-1zM376,249h1v1h-1zM377,185h1v5h-1zM380,240h1v11h-1zM382,249h1v1h-1zM385,249h1v1h-1zM386,190h1v8h-1zM387,238h1v1h-1zM389,250h1v1h-1zM390,191h1v2h-1zM391,191h1v1h-1zM391,241h1v4h-1zM392,183h1v1h-1zM392,245h1v6h-1zM393,184h1v11h-1zM394,182h1v6h-1zM395,239h1v1h-1zM397,183h1v2h-1zM398,188h1v5h-1zM400,188h1v1h-1zM401,195h1v1h-1zM402,248h1v5h-1zM403,187h1v5h-1zM404,193h1v3h-1zM405,190h1v6h-1zM406,246h1v1h-1zM407,180h1v1h-1zM407,250h1v1h-1zM408,252h1v1h-1zM409,254h1v4h-1zM410,187h1v10h-1zM410,258h1v1h-1zM411,187h1v1h-1zM411,252h1v1h-1zM412,241h1v1h-1zM413,188h1v1h-1zM413,240h1v2h-1zM415,192h1v1h-1zM416,255h1v1h-1zM417,245h1v3h-1zM419,186h1v1h-1zM420,198h1v1h-1zM421,186h1v13h-1zM422,185h1v1h-1zM422,249h1v3h-1zM423,188h1v1h-1zM423,252h1v1h-1zM424,246h1v1h-1zM425,180h1v2h-1zM426,182h1v1h-1zM426,253h1v1h-1zM427,200h1v1h-1zM427,240h1v1h-1zM428,251h1v1h-1zM430,244h1v1h-1zM433,196h1v1h-1zM435,183h1v1h-1zM436,172h1v1h-1zM438,253h1v1h-1zM441,193h1v4h-1z" fill="#1f70dd" fill-opacity="0.20"/><path d="M287,199h1v1h-1zM288,199h1v1h-1zM294,199h1v1h-1zM296,159h1v1h-1zM300,200h1v1h-1zM302,191h1v1h-1zM305,181h1v1h-1zM306,180h1v1h-1zM307,178h1v1h-1zM309,248h1v1h-1zM315,235h1v1h-1zM319,189h1v1h-1zM326,194h1v1h-1zM330,193h1v1h-1zM338,245h1v1h-1zM343,235h1v1h-1zM344,238h1v1h-1zM349,196h1v1h-1zM351,184h1v1h-1zM354,181h1v1h-1zM357,185h1v1h-1zM357,249h1v1h-1zM359,189h1v1h-1zM363,249h1v1h-1zM364,234h1v1h-1zM370,235h1v1h-1zM371,252h1v1h-1zM374,187h1v1h-1zM376,248h1v1h-1zM377,190h1v1h-1zM381,237h1v1h-1zM383,191h1v1h-1zM385,190h1v1h-1zM387,182h1v1h-1zM388,178h1v1h-1zM389,193h1v1h-1zM390,193h1v1h-1zM391,240h1v1h-1zM395,182h1v1h-1zM396,183h1v1h-1zM398,252h1v1h-1zM401,240h1v1h-1zM404,196h1v1h-1zM406,190h1v1h-1zM409,253h1v1h-1zM412,240h1v1h-1zM413,239h1v1h-1zM414,190h1v1h-1zM417,244h1v1h-1zM419,245h1v1h-1zM421,199h1v1h-1zM421,250h1v1h-1zM425,182h1v1h-1zM425,251h1v1h-1zM428,186h1v1h-1zM430,243h1v1h-1zM431,185h1v1h-1zM432,240h1v1h-1zM434,187h1v1h-1z" fill="#1f70dd" fill-opacity="0.30"/><path d="M286,221h1v15h-1zM287,200h1v1h-1zM287,240h1v12h-1zM289,251h1v1h-1zM290,187h1v17h-1zM290,238h1v13h-1zM294,249h1v2h-1zM296,160h1v26h-1zM296,239h1v5h-1zM297,240h1v1h-1zM298,196h1v1h-1zM298,246h1v6h-1zM300,201h1v3h-1zM300,257h1v1h-1zM304,186h1v1h-1zM305,182h1v11h-1zM306,246h1v1h-1zM308,246h1v1h-1zM311,197h1v2h-1zM312,182h1v12h-1zM314,180h1v1h-1zM314,247h1v5h-1zM315,186h1v9h-1zM317,190h1v1h-1zM319,190h1v4h-1zM320,189h1v1h-1zM320,232h1v16h-1zM323,245h1v1h-1zM324,190h1v2h-1zM332,193h1v1h-1zM332,247h1v6h-1zM333,191h1v1h-1zM339,187h1v1h-1zM340,192h1v1h-1zM341,192h1v1h-1zM341,253h1v1h-1zM343,234h1v1h-1zM344,185h1v10h-1zM344,239h1v13h-1zM345,252h1v1h-1zM346,244h1v3h-1zM348,239h1v14h-1zM351,256h1v1h-1zM352,192h1v1h-1zM352,251h1v1h-1zM353,190h1v6h-1zM356,238h1v1h-1zM358,245h1v7h-1zM359,190h1v9h-1zM360,239h1v3h-1zM361,183h1v1h-1zM369,247h1v6h-1zM370,234h1v1h-1zM372,192h1v1h-1zM374,240h1v1h-1zM376,245h1v3h-1zM377,255h1v1h-1zM378,185h1v8h-1zM379,188h1v1h-1zM379,242h1v9h-1zM380,239h1v1h-1zM383,192h1v1h-1zM383,249h1v1h-1zM385,191h1v3h-1zM386,198h1v1h-1zM387,234h1v4h-1zM391,192h1v2h-1zM392,184h1v11h-1zM393,195h1v1h-1zM393,242h1v9h-1zM395,183h1v3h-1zM396,184h1v2h-1zM397,253h1v1h-1zM402,187h1v2h-1zM402,245h1v3h-1zM403,192h1v1h-1zM403,252h1v1h-1zM404,197h1v6h-1zM404,235h1v4h-1zM404,251h1v1h-1zM405,251h1v1h-1zM406,191h1v4h-1zM406,242h1v4h-1zM407,249h1v1h-1zM409,187h1v3h-1zM410,252h1v6h-1zM412,188h1v11h-1zM413,236h1v3h-1zM415,254h1v1h-1zM417,191h1v1h-1zM418,187h1v15h-1zM418,247h1v1h-1zM419,239h1v6h-1zM421,200h1v1h-1zM422,186h1v5h-1zM423,236h1v16h-1zM424,180h1v9h-1zM429,198h1v1h-1zM429,244h1v6h-1zM434,188h1v1h-1zM434,235h1v7h-1zM435,184h1v3h-1zM436,243h1v2h-1zM440,241h1v1h-1zM441,197h1v1h-1zM442,201h1v1h-1zM442,251h1v1h-1z" fill="#1f70dd" fill-opacity="0.40"/><path d="M288,253h1v1h-1zM289,182h1v2h-1zM289,247h1v4h-1zM292,255h1v1h-1zM295,186h1v10h-1zM296,186h1v8h-1zM297,184h1v1h-1zM297,237h1v3h-1zM298,238h1v8h-1zM299,256h1v1h-1zM301,248h1v1h-1zM304,187h1v9h-1zM304,244h1v2h-1zM305,193h1v5h-1zM305,243h1v5h-1zM308,190h1v1h-1zM309,240h1v8h-1zM310,174h1v1h-1zM311,252h1v4h-1zM312,194h1v1h-1zM313,240h1v4h-1zM314,242h1v5h-1zM316,193h1v10h-1zM317,251h1v1h-1zM319,249h1v4h-1zM320,190h1v2h-1zM323,242h1v3h-1zM324,240h1v1h-1zM326,195h1v6h-1zM326,242h1v1h-1zM327,183h1v13h-1zM327,236h1v4h-1zM329,239h1v2h-1zM333,236h1v7h-1zM334,191h1v1h-1zM335,198h1v4h-1zM335,230h1v14h-1zM336,201h1v1h-1zM336,252h1v1h-1zM337,234h1v2h-1zM338,182h1v11h-1zM338,242h1v3h-1zM339,188h1v6h-1zM339,238h1v4h-1zM342,192h1v5h-1zM343,192h1v1h-1zM344,195h1v1h-1zM345,186h1v1h-1zM345,251h1v1h-1zM347,195h1v1h-1zM350,186h1v1h-1zM352,246h1v5h-1zM354,254h1v1h-1zM358,242h1v3h-1zM359,254h1v1h-1zM360,186h1v1h-1zM362,201h1v1h-1zM362,254h1v1h-1zM364,232h1v2h-1zM366,251h1v1h-1zM368,245h1v1h-1zM369,192h1v1h-1zM370,192h1v3h-1zM372,193h1v8h-1zM373,191h1v1h-1zM373,244h1v8h-1zM375,198h1v1h-1zM375,243h1v8h-1zM376,195h1v1h-1zM378,193h1v8h-1zM379,189h1v3h-1zM379,241h1v1h-1zM380,187h1v16h-1zM381,190h1v6h-1zM382,243h1v2h-1zM383,193h1v1h-1zM383,237h1v12h-1zM384,196h1v1h-1zM385,237h1v12h-1zM386,199h1v2h-1zM387,183h1v3h-1zM387,233h1v1h-1zM389,194h1v4h-1zM390,242h1v4h-1zM391,194h1v1h-1zM392,195h1v1h-1zM392,244h1v1h-1zM395,235h1v4h-1zM396,251h1v1h-1zM397,185h1v1h-1zM398,251h1v1h-1zM399,184h1v12h-1zM399,236h1v3h-1zM400,189h1v13h-1zM400,243h1v1h-1zM402,189h1v5h-1zM404,203h1v1h-1zM404,239h1v12h-1zM405,239h1v12h-1zM408,190h1v11h-1zM408,251h1v1h-1zM409,190h1v6h-1zM410,197h1v1h-1zM413,189h1v1h-1zM414,191h1v6h-1zM414,248h1v4h-1zM416,187h1v1h-1zM416,252h1v3h-1zM417,241h1v3h-1zM420,199h1v2h-1zM422,191h1v3h-1zM422,248h1v1h-1zM423,189h1v2h-1zM423,235h1v1h-1zM424,189h1v8h-1zM425,247h1v4h-1zM427,236h1v4h-1zM429,243h1v1h-1zM432,239h1v1h-1zM433,252h1v1h-1zM434,189h1v7h-1zM435,256h1v1h-1zM436,173h1v22h-1zM437,195h1v1h-1zM439,183h1v8h-1zM440,193h1v6h-1zM440,238h1v3h-1zM441,251h1v1h-1zM442,202h1v49h-1z" fill="#1f70dd" fill-opacity="0.50"/><path d="M288,200h1v1h-1zM290,235h1v3h-1zM291,188h1v9h-1zM292,195h1v7h-1zM292,252h1v3h-1zM293,192h1v4h-1zM293,251h1v2h-1zM296,194h1v1h-1zM296,237h1v2h-1zM297,185h1v8h-1zM298,197h1v2h-1zM299,193h1v10h-1zM299,253h1v3h-1zM300,253h1v4h-1zM301,185h1v5h-1zM301,244h1v4h-1zM302,238h1v16h-1zM303,244h1v5h-1zM305,242h1v1h-1zM306,181h1v7h-1zM306,240h1v6h-1zM307,179h1v23h-1zM308,191h1v1h-1zM309,188h1v4h-1zM309,238h1v2h-1zM310,175h1v25h-1zM311,199h1v4h-1zM312,239h1v1h-1zM313,238h1v2h-1zM313,244h1v6h-1zM314,181h1v1h-1zM316,203h1v1h-1zM317,244h1v7h-1zM318,194h1v1h-1zM318,244h1v11h-1zM319,248h1v1h-1zM320,192h1v1h-1zM321,180h1v12h-1zM321,243h1v1h-1zM323,178h1v2h-1zM323,238h1v4h-1zM325,199h1v1h-1zM325,237h1v14h-1zM326,240h1v2h-1zM327,235h1v1h-1zM328,175h1v7h-1zM328,243h1v1h-1zM329,193h1v2h-1zM331,185h1v3h-1zM332,194h1v4h-1zM333,192h1v2h-1zM334,192h1v5h-1zM334,236h1v6h-1zM336,245h1v7h-1zM337,187h1v5h-1zM337,233h1v1h-1zM338,193h1v1h-1zM338,241h1v1h-1zM339,194h1v1h-1zM340,193h1v1h-1zM340,241h1v11h-1zM341,193h1v3h-1zM341,252h1v1h-1zM343,233h1v1h-1zM344,235h1v1h-1zM345,187h1v8h-1zM346,195h1v1h-1zM347,196h1v1h-1zM347,239h1v9h-1zM348,238h1v1h-1zM350,187h1v9h-1zM350,235h1v2h-1zM351,185h1v9h-1zM351,255h1v1h-1zM352,193h1v1h-1zM352,245h1v1h-1zM353,242h1v12h-1zM354,182h1v7h-1zM354,246h1v8h-1zM355,190h1v9h-1zM355,246h1v5h-1zM356,187h1v8h-1zM356,237h1v1h-1zM357,186h1v9h-1zM357,241h1v8h-1zM358,241h1v1h-1zM359,199h1v1h-1zM359,253h1v1h-1zM360,187h1v8h-1zM361,184h1v3h-1zM361,252h1v10h-1zM362,202h1v1h-1zM362,250h1v4h-1zM363,198h1v1h-1zM364,190h1v8h-1zM364,231h1v1h-1zM365,188h1v6h-1zM366,188h1v13h-1zM366,246h1v5h-1zM367,232h1v4h-1zM368,192h1v1h-1zM370,195h1v1h-1zM371,195h1v1h-1zM371,244h1v8h-1zM372,245h1v7h-1zM374,188h1v3h-1zM375,199h1v3h-1zM376,196h1v2h-1zM377,250h1v5h-1zM378,201h1v3h-1zM381,196h1v7h-1zM382,242h1v1h-1zM382,245h1v4h-1zM386,201h1v5h-1zM388,179h1v3h-1zM388,247h1v9h-1zM389,246h1v4h-1zM391,195h1v2h-1zM392,196h1v1h-1zM392,241h1v3h-1zM394,188h1v15h-1zM394,252h1v6h-1zM395,186h1v5h-1zM395,234h1v1h-1zM396,238h1v13h-1zM397,186h1v2h-1zM398,193h1v1h-1zM398,243h1v8h-1zM399,196h1v1h-1zM400,239h1v4h-1zM401,236h1v4h-1zM403,193h1v8h-1zM404,230h1v5h-1zM405,196h1v1h-1zM406,195h1v1h-1zM407,181h1v16h-1zM411,188h1v13h-1zM411,247h1v5h-1zM413,190h1v5h-1zM414,247h1v1h-1zM415,193h1v4h-1zM415,253h1v1h-1zM416,188h1v14h-1zM417,192h1v7h-1zM418,246h1v1h-1zM419,238h1v1h-1zM420,246h1v8h-1zM421,248h1v2h-1zM422,194h1v7h-1zM424,197h1v2h-1zM425,243h1v4h-1zM426,183h1v20h-1zM426,252h1v1h-1zM427,201h1v2h-1zM427,234h1v2h-1zM428,187h1v10h-1zM429,199h1v5h-1zM430,192h1v5h-1zM430,242h1v1h-1zM431,186h1v3h-1zM431,246h1v1h-1zM432,193h1v7h-1zM433,197h1v1h-1zM433,251h1v1h-1zM434,234h1v1h-1zM435,187h1v7h-1zM435,246h1v10h-1zM436,195h1v2h-1zM437,243h1v4h-1zM438,182h1v1h-1zM438,241h1v12h-1z" fill="#1f70dd" fill-opacity="0.60"/><path d="M287,201h1v1h-1zM291,237h1v1h-1zM292,251h1v1h-1zM293,196h1v1h-1zM294,248h1v1h-1zM295,196h1v1h-1zM298,199h1v1h-1zM298,237h1v1h-1zM299,203h1v1h-1zM301,243h1v1h-1zM302,192h1v1h-1zM304,196h1v1h-1zM304,243h1v1h-1zM305,198h1v1h-1zM306,188h1v1h-1zM307,240h1v1h-1zM308,192h1v1h-1zM310,239h1v1h-1zM311,203h1v1h-1zM312,238h1v1h-1zM316,235h1v1h-1zM317,243h1v1h-1zM318,243h1v1h-1zM319,194h1v1h-1zM321,192h1v1h-1zM321,242h1v1h-1zM326,201h1v1h-1zM327,196h1v1h-1zM331,188h1v1h-1zM332,198h1v1h-1zM332,246h1v1h-1zM336,244h1v1h-1zM339,237h1v1h-1zM341,251h1v1h-1zM344,196h1v1h-1zM345,195h1v1h-1zM347,197h1v1h-1zM350,234h1v1h-1zM351,194h1v1h-1zM352,194h1v1h-1zM353,241h1v1h-1zM354,245h1v1h-1zM359,252h1v1h-1zM360,195h1v1h-1zM361,251h1v1h-1zM364,198h1v1h-1zM366,201h1v1h-1zM367,186h1v1h-1zM369,246h1v1h-1zM372,244h1v1h-1zM373,192h1v1h-1zM376,198h1v1h-1zM377,191h1v1h-1zM378,240h1v1h-1zM379,192h1v1h-1zM381,203h1v1h-1zM382,186h1v1h-1zM383,236h1v1h-1zM388,182h1v1h-1zM388,238h1v2h-1zM388,246h1v1h-1zM394,251h1v1h-1zM395,191h1v1h-1zM396,186h1v1h-1zM397,252h1v1h-1zM398,242h1v1h-1zM401,196h1v1h-1zM402,194h1v1h-1zM407,197h1v1h-1zM408,201h1v1h-1zM412,199h1v1h-1zM413,235h1v1h-1zM415,252h1v1h-1zM416,202h1v1h-1zM420,245h1v1h-1zM421,247h1v1h-1zM422,201h1v1h-1zM423,234h1v1h-1zM424,245h1v1h-1zM426,203h1v1h-1zM426,251h1v1h-1zM427,203h1v1h-1zM428,250h1v1h-1zM430,197h1v1h-1zM431,245h1v1h-1zM432,200h1v1h-1zM435,194h1v1h-1zM435,245h1v1h-1zM436,197h1v1h-1zM438,240h1v1h-1zM439,240h1v1h-1zM440,237h1v1h-1z" fill="#1f70dd" fill-opacity="0.70"/><path d="M287,237h1v3h-1zM289,184h1v1h-1zM289,244h1v3h-1zM290,234h1v1h-1zM291,236h1v1h-1zM292,238h1v13h-1zM293,246h1v5h-1zM294,241h1v7h-1zM297,193h1v1h-1zM298,200h1v5h-1zM300,243h1v10h-1zM302,193h1v3h-1zM302,237h1v1h-1zM303,186h1v1h-1zM304,238h1v5h-1zM305,240h1v2h-1zM306,189h1v1h-1zM308,193h1v3h-1zM308,242h1v4h-1zM309,192h1v1h-1zM310,234h1v5h-1zM313,182h1v16h-1zM313,233h1v5h-1zM314,182h1v9h-1zM314,241h1v1h-1zM316,204h1v1h-1zM317,191h1v1h-1zM317,232h1v11h-1zM318,236h1v7h-1zM319,245h1v3h-1zM321,193h1v3h-1zM321,240h1v2h-1zM322,197h1v1h-1zM323,235h1v3h-1zM324,192h1v1h-1zM324,239h1v1h-1zM325,200h1v1h-1zM325,236h1v1h-1zM328,182h1v1h-1zM328,242h1v1h-1zM329,238h1v1h-1zM330,194h1v4h-1zM330,252h1v1h-1zM331,189h1v5h-1zM331,241h1v5h-1zM333,194h1v2h-1zM334,197h1v1h-1zM334,234h1v2h-1zM335,228h1v2h-1zM336,239h1v5h-1zM337,192h1v1h-1zM338,194h1v2h-1zM338,240h1v1h-1zM339,195h1v1h-1zM340,240h1v1h-1zM341,196h1v5h-1zM341,240h1v11h-1zM342,197h1v1h-1zM344,197h1v7h-1zM344,233h1v2h-1zM346,196h1v1h-1zM346,243h1v1h-1zM347,238h1v1h-1zM348,183h1v1h-1zM349,197h1v5h-1zM349,245h1v1h-1zM350,233h1v1h-1zM351,254h1v1h-1zM352,244h1v1h-1zM353,196h1v1h-1zM354,189h1v1h-1zM354,243h1v2h-1zM355,245h1v1h-1zM356,195h1v1h-1zM356,236h1v1h-1zM357,195h1v1h-1zM358,199h1v1h-1zM359,200h1v2h-1zM360,238h1v1h-1zM361,187h1v1h-1zM361,231h1v5h-1zM361,238h1v13h-1zM362,203h1v3h-1zM363,199h1v5h-1zM363,248h1v1h-1zM365,237h1v7h-1zM366,202h1v2h-1zM366,245h1v1h-1zM367,187h1v4h-1zM368,193h1v1h-1zM369,193h1v3h-1zM370,233h1v1h-1zM371,235h1v9h-1zM372,201h1v1h-1zM373,193h1v6h-1zM374,191h1v6h-1zM375,202h1v1h-1zM376,238h1v7h-1zM377,192h1v10h-1zM377,249h1v1h-1zM378,237h1v3h-1zM380,203h1v3h-1zM380,233h1v6h-1zM381,235h1v2h-1zM382,187h1v3h-1zM382,238h1v4h-1zM384,197h1v2h-1zM385,194h1v1h-1zM386,252h1v1h-1zM387,186h1v1h-1zM387,232h1v1h-1zM388,183h1v11h-1zM388,240h1v6h-1zM389,245h1v1h-1zM390,194h1v1h-1zM391,197h1v2h-1zM392,240h1v1h-1zM393,196h1v9h-1zM393,239h1v3h-1zM394,203h1v1h-1zM394,238h1v13h-1zM396,187h1v8h-1zM396,237h1v1h-1zM397,236h1v16h-1zM399,235h1v1h-1zM400,238h1v1h-1zM402,195h1v1h-1zM402,239h1v6h-1zM403,201h1v1h-1zM403,251h1v1h-1zM404,229h1v1h-1zM405,235h1v4h-1zM406,196h1v8h-1zM406,238h1v4h-1zM407,244h1v5h-1zM408,242h1v9h-1zM409,252h1v1h-1zM410,251h1v1h-1zM411,201h1v1h-1zM412,236h1v4h-1zM413,195h1v1h-1zM413,234h1v1h-1zM415,197h1v4h-1zM418,202h1v1h-1zM421,201h1v1h-1zM421,243h1v4h-1zM422,202h1v3h-1zM424,238h1v7h-1zM425,183h1v6h-1zM425,242h1v1h-1zM426,247h1v4h-1zM427,233h1v1h-1zM428,197h1v1h-1zM428,242h1v8h-1zM431,240h1v5h-1zM432,238h1v1h-1zM434,196h1v1h-1zM436,198h1v2h-1zM436,239h1v4h-1zM438,183h1v5h-1zM438,236h1v4h-1zM439,191h1v1h-1zM439,236h1v4h-1zM440,199h1v1h-1zM441,198h1v1h-1zM441,242h1v9h-1z" fill="#1f70dd" fill-opacity="0.80"/><path d="M287,202h1v5h-1zM288,240h1v13h-1zM289,185h1v12h-1zM291,197h1v1h-1zM291,235h1v1h-1zM292,236h1v2h-1zM293,197h1v4h-1zM294,200h1v7h-1zM294,240h1v1h-1zM295,197h1v1h-1zM296,195h1v5h-1zM296,236h1v1h-1zM297,194h1v7h-1zM297,236h1v1h-1zM300,204h1v1h-1zM300,237h1v6h-1zM301,237h1v6h-1zM304,197h1v1h-1zM304,227h1v11h-1zM305,199h1v1h-1zM306,190h1v10h-1zM306,235h1v3h-1zM306,239h1v1h-1zM307,239h1v1h-1zM308,240h1v2h-1zM309,193h1v7h-1zM309,237h1v1h-1zM310,233h1v1h-1zM312,195h1v6h-1zM314,191h1v6h-1zM315,195h1v3h-1zM318,195h1v8h-1zM318,235h1v1h-1zM319,195h1v7h-1zM320,193h1v6h-1zM320,231h1v1h-1zM322,198h1v3h-1zM322,244h1v1h-1zM323,180h1v17h-1zM324,193h1v6h-1zM324,238h1v1h-1zM326,202h1v3h-1zM326,237h1v3h-1zM328,241h1v1h-1zM329,195h1v1h-1zM329,237h1v1h-1zM331,194h1v1h-1zM331,237h1v4h-1zM331,246h1v4h-1zM332,199h1v7h-1zM332,243h1v3h-1zM334,232h1v2h-1zM335,227h1v1h-1zM336,238h1v1h-1zM337,232h1v1h-1zM338,196h1v1h-1zM338,238h1v2h-1zM339,196h1v1h-1zM339,235h1v2h-1zM340,194h1v10h-1zM341,201h1v1h-1zM342,198h1v8h-1zM342,240h1v3h-1zM343,193h1v3h-1zM344,232h1v1h-1zM345,196h1v1h-1zM346,197h1v4h-1zM347,234h1v4h-1zM348,184h1v1h-1zM349,202h1v1h-1zM350,196h1v1h-1zM350,231h1v2h-1zM351,195h1v1h-1zM351,235h1v19h-1zM352,195h1v5h-1zM352,241h1v3h-1zM353,197h1v3h-1zM353,232h1v9h-1zM354,190h1v10h-1zM354,241h1v2h-1zM355,199h1v1h-1zM356,196h1v2h-1zM356,234h1v2h-1zM357,196h1v8h-1zM358,200h1v7h-1zM359,202h1v1h-1zM359,242h1v10h-1zM360,196h1v3h-1zM360,237h1v1h-1zM361,236h1v2h-1zM362,238h1v12h-1zM363,204h1v1h-1zM365,194h1v4h-1zM365,236h1v1h-1zM366,204h1v1h-1zM367,191h1v2h-1zM367,231h1v1h-1zM368,194h1v4h-1zM368,244h1v1h-1zM369,196h1v1h-1zM369,239h1v7h-1zM371,196h1v9h-1zM372,202h1v3h-1zM373,199h1v3h-1zM373,238h1v6h-1zM374,197h1v1h-1zM374,239h1v1h-1zM375,242h1v1h-1zM376,199h1v3h-1zM376,237h1v1h-1zM378,204h1v4h-1zM378,236h1v1h-1zM379,236h1v5h-1zM380,206h1v1h-1zM381,234h1v1h-1zM382,190h1v9h-1zM383,194h1v1h-1zM384,236h1v1h-1zM385,195h1v3h-1zM385,236h1v1h-1zM388,194h1v4h-1zM390,195h1v6h-1zM390,240h1v2h-1zM391,199h1v3h-1zM393,205h1v1h-1zM393,238h1v1h-1zM394,204h1v2h-1zM394,237h1v1h-1zM395,230h1v4h-1zM396,195h1v1h-1zM397,188h1v1h-1zM397,235h1v1h-1zM398,236h1v6h-1zM399,230h1v5h-1zM400,202h1v1h-1zM400,237h1v1h-1zM401,197h1v3h-1zM401,235h1v1h-1zM402,196h1v2h-1zM403,202h1v1h-1zM403,239h1v12h-1zM405,197h1v8h-1zM406,235h1v3h-1zM407,198h1v4h-1zM409,196h1v1h-1zM410,247h1v4h-1zM411,202h1v4h-1zM411,246h1v1h-1zM412,200h1v2h-1zM415,201h1v2h-1zM416,203h1v1h-1zM416,240h1v12h-1zM417,199h1v4h-1zM417,240h1v1h-1zM418,237h1v9h-1zM419,187h1v7h-1zM419,237h1v1h-1zM420,201h1v3h-1zM420,234h1v11h-1zM422,205h1v3h-1zM422,240h1v8h-1zM423,191h1v1h-1zM423,229h1v5h-1zM424,234h1v4h-1zM425,189h1v9h-1zM426,204h1v1h-1zM428,198h1v1h-1zM428,241h1v1h-1zM430,241h1v1h-1zM431,239h1v1h-1zM432,201h1v2h-1zM432,232h1v3h-1zM434,197h1v1h-1zM434,233h1v1h-1zM435,195h1v8h-1zM435,233h1v12h-1zM436,200h1v2h-1zM436,235h1v4h-1zM437,196h1v12h-1zM437,242h1v1h-1zM438,188h1v10h-1zM438,235h1v1h-1z" fill="#1f70dd" fill-opacity="0.90"/><path d="M287,207h1v30h-1zM288,201h1v39h-1zM289,197h1v47h-1zM290,204h1v30h-1zM291,198h1v37h-1zM292,202h1v34h-1zM293,201h1v45h-1zM294,207h1v33h-1zM295,198h1v49h-1zM296,200h1v36h-1zM297,201h1v35h-1zM298,205h1v32h-1zM299,204h1v49h-1zM300,205h1v32h-1zM301,190h1v47h-1zM302,196h1v41h-1zM303,187h1v57h-1zM304,198h1v29h-1zM305,200h1v40h-1zM306,200h1v35h-1zM306,238h1v1h-1zM307,202h1v37h-1zM308,196h1v44h-1zM309,200h1v37h-1zM310,200h1v33h-1zM311,204h1v48h-1zM312,201h1v37h-1zM313,198h1v35h-1zM314,197h1v44h-1zM315,198h1v37h-1zM316,205h1v30h-1zM317,192h1v40h-1zM318,203h1v32h-1zM319,202h1v43h-1zM320,199h1v32h-1zM321,196h1v44h-1zM322,201h1v43h-1zM323,197h1v38h-1zM324,199h1v39h-1zM325,201h1v35h-1zM326,205h1v32h-1zM327,197h1v38h-1zM328,183h1v58h-1zM329,196h1v41h-1zM330,198h1v54h-1zM331,195h1v42h-1zM332,206h1v37h-1zM333,196h1v40h-1zM334,198h1v34h-1zM335,202h1v25h-1zM336,202h1v36h-1zM337,193h1v39h-1zM338,197h1v41h-1zM339,197h1v38h-1zM340,204h1v36h-1zM341,202h1v38h-1zM342,206h1v34h-1zM343,196h1v37h-1zM344,204h1v28h-1zM345,197h1v54h-1zM346,201h1v42h-1zM347,198h1v36h-1zM348,185h1v53h-1zM349,203h1v42h-1zM350,197h1v34h-1zM351,196h1v39h-1zM352,200h1v41h-1zM353,200h1v32h-1zM354,200h1v41h-1zM355,200h1v45h-1zM356,198h1v36h-1zM357,204h1v37h-1zM358,207h1v34h-1zM359,203h1v39h-1zM360,199h1v38h-1zM361,188h1v43h-1zM362,206h1v32h-1zM363,205h1v43h-1zM364,199h1v32h-1zM365,198h1v38h-1zM366,205h1v40h-1zM367,193h1v38h-1zM368,198h1v46h-1zM369,197h1v42h-1zM370,196h1v37h-1zM371,205h1v30h-1zM372,205h1v39h-1zM373,202h1v36h-1zM374,198h1v41h-1zM375,203h1v39h-1zM376,202h1v35h-1zM377,202h1v47h-1zM378,208h1v28h-1zM379,193h1v43h-1zM380,207h1v26h-1zM381,204h1v30h-1zM382,199h1v39h-1zM383,195h1v41h-1zM384,199h1v37h-1zM385,198h1v38h-1zM386,206h1v46h-1zM387,187h1v45h-1zM388,198h1v40h-1zM389,198h1v47h-1zM390,201h1v39h-1zM391,202h1v38h-1zM392,197h1v43h-1zM393,206h1v32h-1zM394,206h1v31h-1zM395,192h1v38h-1zM396,196h1v41h-1zM397,189h1v46h-1zM398,194h1v42h-1zM399,197h1v33h-1zM400,203h1v34h-1zM401,200h1v35h-1zM402,198h1v41h-1zM403,203h1v36h-1zM404,204h1v25h-1zM405,205h1v30h-1zM406,204h1v31h-1zM407,202h1v42h-1zM408,202h1v40h-1zM409,197h1v55h-1zM410,198h1v49h-1zM411,206h1v40h-1zM412,202h1v34h-1zM413,196h1v38h-1zM414,197h1v50h-1zM415,203h1v49h-1zM416,204h1v36h-1zM417,203h1v37h-1zM418,203h1v34h-1zM419,194h1v43h-1zM420,204h1v30h-1zM421,202h1v41h-1zM422,208h1v32h-1zM423,192h1v37h-1zM424,199h1v35h-1zM425,198h1v44h-1zM426,205h1v42h-1zM427,204h1v29h-1zM428,199h1v42h-1zM429,204h1v39h-1zM430,198h1v43h-1zM431,189h1v50h-1zM432,203h1v29h-1zM432,235h1v3h-1zM433,198h1v53h-1zM434,198h1v35h-1zM435,203h1v30h-1zM436,202h1v33h-1zM437,208h1v34h-1zM438,198h1v37h-1zM439,192h1v44h-1zM440,200h1v37h-1zM441,199h1v43h-1z" fill="#1f70dd" fill-opacity="1.00"/><path d="M286.6,159.1H442.5" stroke="#828282" stroke-width="1.4" stroke-dasharray="5.7 4.72" stroke-dashoffset="3.05" fill="none"/><path d="M286.6,262.4H442.5" stroke="#3c3c3c" stroke-width="1.2" stroke-dasharray="5.7 4.72" stroke-dashoffset="3.05" fill="none"/><rect x="287.1" y="144.6" width="37.4" height="8.85" fill="#fff" stroke="#8c8c8c" stroke-width="0.6"/><line x1="287.6" y1="149.02" x2="303" y2="149.02" stroke="#86b3ee" stroke-width="1.6"/><text x="304.9" y="150.82" font-size="6.5" fill="#111" stroke="#111" stroke-width="0.1" textLength="18.4" lengthAdjust="spacingAndGlyphs">Case 2</text><rect x="286.6" y="141.4" width="155.9" height="126" fill="none" stroke="#1a1a1a" stroke-width="1.05"/><path d="M286.6,267.4v2.2M286.6,141.4v2.2M299.59,267.4v1.2M299.59,141.4v1.2M312.58,267.4v2.2M312.58,141.4v2.2M325.58,267.4v1.2M325.58,141.4v1.2M338.57,267.4v2.2M338.57,141.4v2.2M351.56,267.4v1.2M351.56,141.4v1.2M364.55,267.4v2.2M364.55,141.4v2.2M377.54,267.4v1.2M377.54,141.4v1.2M390.53,267.4v2.2M390.53,141.4v2.2M403.53,267.4v1.2M403.53,141.4v1.2M416.52,267.4v2.2M416.52,141.4v2.2M429.51,267.4v1.2M429.51,141.4v1.2M442.5,267.4v2.2M442.5,141.4v2.2M286.6,148.3h-2.2M442.5,148.3h-2.2M286.6,173.4h-2.2M442.5,173.4h-2.2M286.6,198.5h-2.2M442.5,198.5h-2.2M286.6,223.6h-2.2M442.5,223.6h-2.2M286.6,248.7h-2.2M442.5,248.7h-2.2M286.6,160.85h-1.2M442.5,160.85h-1.2M286.6,185.95h-1.2M442.5,185.95h-1.2M286.6,211.05h-1.2M442.5,211.05h-1.2M286.6,236.15h-1.2M442.5,236.15h-1.2M286.6,261.25h-1.2M442.5,261.25h-1.2" stroke="#1a1a1a" stroke-width="0.8" fill="none"/><text x="286.6" y="281.2" font-size="9" fill="#222" stroke="#222" stroke-width="0.08" text-anchor="middle">0</text><text x="312.58" y="281.2" font-size="9" fill="#222" stroke="#222" stroke-width="0.08" text-anchor="middle">1200</text><text x="338.57" y="281.2" font-size="9" fill="#222" stroke="#222" stroke-width="0.08" text-anchor="middle">2400</text><text x="364.55" y="281.2" font-size="9" fill="#222" stroke="#222" stroke-width="0.08" text-anchor="middle">3600</text><text x="390.53" y="281.2" font-size="9" fill="#222" stroke="#222" stroke-width="0.08" text-anchor="middle">4800</text><text x="416.52" y="281.2" font-size="9" fill="#222" stroke="#222" stroke-width="0.08" text-anchor="middle">6000</text><text x="442.5" y="281.2" font-size="9" fill="#222" stroke="#222" stroke-width="0.08" text-anchor="middle">7200</text><text x="279.2" y="151.5" font-size="9" fill="#222" stroke="#222" stroke-width="0.08" text-anchor="end">179.998</text><text x="279.2" y="176.6" font-size="9" fill="#222" stroke="#222" stroke-width="0.08" text-anchor="end">179.996</text><text x="279.2" y="201.7" font-size="9" fill="#222" stroke="#222" stroke-width="0.08" text-anchor="end">179.994</text><text x="279.2" y="226.8" font-size="9" fill="#222" stroke="#222" stroke-width="0.08" text-anchor="end">179.992</text><text x="279.2" y="251.9" font-size="9" fill="#222" stroke="#222" stroke-width="0.08" text-anchor="end">179.990</text><text x="363.55" y="294.9" font-size="9.1" fill="#222" stroke="#222" stroke-width="0.08" text-anchor="middle">Time (s)</text><text transform="translate(239.7,205.6) rotate(-90)" font-size="8.8" fill="#222" stroke="#222" stroke-width="0.06" text-anchor="middle">Phase difference (degree)</text><text x="335.4" y="167.6" font-size="7.25" fill="#222" stroke="#222" stroke-width="0.05">mean value:179.9922</text><path d="M432.3,149V154.9" stroke="#000" stroke-width="0.9"/><path d="M430.2,152.8 L432.3,158.4 L434.4,152.8 L432.3,154.1Z" fill="#000"/><text x="432.2" y="261.2" font-size="8.3" fill="#222" stroke="#222" stroke-width="0.05" text-anchor="end">&lt;0.0082</text><path d="M432.4,271.5V265.5" stroke="#000" stroke-width="0.9"/><path d="M430.3,267.6 L432.4,262 L434.5,267.6 L432.4,266.3Z" fill="#000"/><text x="465.1" y="145.2" font-size="14.8" font-weight="bold" fill="#000">f</text><path d="M533.4,142.6V267.4M559.2,142.6V267.4M585,142.6V267.4M610.8,142.6V267.4M636.6,142.6V267.4M662.4,142.6V267.4M520.5,155.08H675.3M520.5,180.04H675.3M520.5,205H675.3M520.5,229.96H675.3M520.5,254.92H675.3" stroke="#e6e6e6" stroke-width="0.7" fill="none"/><path d="M546.3,142.6V267.4M572.1,142.6V267.4M597.9,142.6V267.4M623.7,142.6V267.4M649.5,142.6V267.4M520.5,167.56H675.3M520.5,192.52H675.3M520.5,217.48H675.3M520.5,242.44H675.3" stroke="#c2c2c2" stroke-width="0.7" fill="none"/><path d="M521,158h1v1h-1zM521,227h1v1h-1zM522,159h1v4h-1zM522,228h1v3h-1zM523,158h1v1h-1zM524,159h1v5h-1zM525,166h1v1h-1zM526,166h1v1h-1zM526,238h1v4h-1zM528,163h1v7h-1zM529,244h1v1h-1zM530,169h1v1h-1zM531,170h1v7h-1zM532,171h1v6h-1zM533,248h1v3h-1zM534,248h1v1h-1zM535,248h1v3h-1zM538,247h1v4h-1zM539,184h1v1h-1zM541,248h1v3h-1zM542,251h1v1h-1zM545,178h1v1h-1zM546,178h1v1h-1zM546,242h1v7h-1zM548,173h1v6h-1zM548,246h1v1h-1zM550,174h1v1h-1zM552,179h1v1h-1zM554,246h1v5h-1zM556,175h1v1h-1zM556,251h1v1h-1zM557,251h1v1h-1zM559,248h1v1h-1zM560,172h1v6h-1zM566,250h1v1h-1zM567,250h1v1h-1zM569,250h1v1h-1zM571,174h1v1h-1zM575,249h1v1h-1zM576,181h1v1h-1zM578,178h1v3h-1zM581,171h1v1h-1zM582,171h1v1h-1zM583,251h1v1h-1zM588,174h1v8h-1zM588,244h1v1h-1zM589,246h1v4h-1zM592,243h1v5h-1zM593,251h1v1h-1zM594,251h1v1h-1zM596,178h1v1h-1zM597,251h1v1h-1zM598,181h1v1h-1zM598,245h1v6h-1zM600,182h1v4h-1zM601,187h1v2h-1zM602,174h1v1h-1zM602,243h1v1h-1zM604,174h1v1h-1zM605,173h1v1h-1zM607,253h1v1h-1zM613,178h1v5h-1zM615,249h1v1h-1zM616,177h1v1h-1zM617,245h1v2h-1zM618,249h1v1h-1zM619,163h1v1h-1zM620,244h1v7h-1zM621,174h1v1h-1zM622,251h1v1h-1zM624,247h1v1h-1zM625,240h1v9h-1zM626,249h1v1h-1zM627,173h1v7h-1zM628,182h1v2h-1zM628,241h1v1h-1zM629,251h1v1h-1zM630,251h1v1h-1zM634,234h1v17h-1zM635,184h1v1h-1zM638,248h1v2h-1zM640,178h1v1h-1zM641,249h1v1h-1zM642,174h1v5h-1zM647,250h1v1h-1zM648,158h1v1h-1zM650,164h1v18h-1zM650,250h1v1h-1zM651,250h1v1h-1zM652,171h1v1h-1zM653,176h1v6h-1zM654,176h1v1h-1zM655,177h1v1h-1zM658,248h1v2h-1zM660,252h1v1h-1zM661,249h1v3h-1zM664,182h1v2h-1zM664,250h1v1h-1zM666,177h1v3h-1zM668,247h1v4h-1zM669,181h1v1h-1zM671,252h1v1h-1zM674,178h1v1h-1z" fill="#37ab6a" fill-opacity="0.10"/><path d="M522,163h1v1h-1zM522,227h1v1h-1zM525,167h1v6h-1zM526,237h1v1h-1zM527,163h1v1h-1zM527,242h1v4h-1zM529,174h1v1h-1zM531,177h1v1h-1zM531,235h1v11h-1zM532,177h1v4h-1zM533,171h1v1h-1zM533,247h1v1h-1zM534,173h1v1h-1zM537,251h1v1h-1zM539,185h1v2h-1zM540,172h1v1h-1zM541,167h1v5h-1zM541,241h1v7h-1zM544,179h1v1h-1zM546,179h1v3h-1zM548,179h1v1h-1zM548,243h1v3h-1zM552,247h1v4h-1zM554,242h1v4h-1zM555,250h1v1h-1zM557,250h1v1h-1zM558,241h1v1h-1zM561,249h1v1h-1zM562,160h1v1h-1zM563,160h1v20h-1zM563,249h1v2h-1zM565,180h1v10h-1zM565,250h1v1h-1zM567,177h1v3h-1zM569,179h1v1h-1zM570,174h1v1h-1zM572,172h1v3h-1zM573,248h1v1h-1zM574,251h1v1h-1zM577,177h1v1h-1zM579,166h1v1h-1zM580,166h1v12h-1zM580,249h1v1h-1zM581,172h1v6h-1zM581,251h1v1h-1zM582,249h1v3h-1zM583,249h1v2h-1zM584,175h1v1h-1zM584,251h1v1h-1zM585,175h1v1h-1zM586,247h1v1h-1zM587,250h1v1h-1zM588,182h1v1h-1zM589,245h1v1h-1zM591,180h1v4h-1zM592,174h1v4h-1zM593,174h1v1h-1zM594,177h1v1h-1zM595,176h1v1h-1zM596,179h1v2h-1zM596,251h1v1h-1zM597,249h1v2h-1zM598,182h1v3h-1zM599,172h1v1h-1zM600,245h1v6h-1zM601,189h1v2h-1zM603,175h1v3h-1zM605,234h1v16h-1zM606,249h1v1h-1zM607,175h1v1h-1zM607,252h1v1h-1zM608,253h1v1h-1zM609,173h1v4h-1zM612,184h1v6h-1zM613,183h1v1h-1zM613,249h1v2h-1zM616,178h1v3h-1zM617,177h1v1h-1zM618,175h1v1h-1zM618,245h1v4h-1zM619,164h1v11h-1zM619,249h1v1h-1zM620,163h1v1h-1zM621,251h1v1h-1zM622,175h1v1h-1zM622,250h1v1h-1zM623,247h1v1h-1zM624,246h1v1h-1zM625,239h1v1h-1zM627,180h1v1h-1zM628,238h1v3h-1zM630,250h1v1h-1zM631,250h1v1h-1zM632,179h1v8h-1zM633,251h1v1h-1zM635,185h1v2h-1zM636,179h1v6h-1zM636,249h1v3h-1zM638,179h1v1h-1zM638,247h1v1h-1zM639,175h1v1h-1zM639,250h1v3h-1zM641,177h1v1h-1zM645,247h1v5h-1zM646,175h1v1h-1zM646,249h1v1h-1zM650,182h1v1h-1zM652,243h1v2h-1zM653,182h1v1h-1zM653,250h1v1h-1zM654,249h1v1h-1zM655,245h1v2h-1zM657,239h1v10h-1zM659,249h1v1h-1zM660,178h1v1h-1zM661,177h1v1h-1zM662,181h1v1h-1zM662,250h1v1h-1zM667,251h1v1h-1zM668,168h1v1h-1zM669,182h1v3h-1zM669,243h1v1h-1zM670,247h1v3h-1zM671,178h1v4h-1zM673,182h1v1h-1zM674,179h1v1h-1z" fill="#37ab6a" fill-opacity="0.20"/><path d="M521,226h1v1h-1zM528,245h1v1h-1zM536,177h1v1h-1zM536,250h1v1h-1zM537,178h1v1h-1zM547,175h1v1h-1zM553,180h1v1h-1zM553,250h1v1h-1zM554,180h1v1h-1zM555,175h1v1h-1zM560,248h1v1h-1zM564,177h1v1h-1zM564,248h1v1h-1zM566,170h1v1h-1zM567,180h1v1h-1zM568,250h1v1h-1zM570,250h1v1h-1zM571,249h1v1h-1zM583,176h1v1h-1zM589,174h1v1h-1zM590,180h1v1h-1zM590,249h1v1h-1zM592,178h1v1h-1zM593,250h1v1h-1zM604,249h1v1h-1zM605,233h1v1h-1zM608,173h1v1h-1zM609,177h1v1h-1zM609,243h1v1h-1zM610,245h1v1h-1zM611,248h1v1h-1zM612,249h1v1h-1zM614,178h1v1h-1zM619,175h1v1h-1zM630,249h1v1h-1zM631,249h1v1h-1zM634,233h1v1h-1zM637,251h1v1h-1zM643,174h1v1h-1zM643,251h1v1h-1zM644,251h1v1h-1zM645,178h1v1h-1zM649,249h1v1h-1zM650,249h1v1h-1zM651,164h1v1h-1zM656,248h1v1h-1zM657,178h1v1h-1zM657,238h1v1h-1zM663,247h1v1h-1zM666,180h1v1h-1zM666,249h1v1h-1zM668,246h1v1h-1zM669,185h1v1h-1zM670,184h1v1h-1zM671,182h1v1h-1zM672,178h1v1h-1zM672,249h1v1h-1zM673,246h1v1h-1z" fill="#37ab6a" fill-opacity="0.30"/><path d="M520,159h1v17h-1zM520,220h1v1h-1zM524,164h1v1h-1zM530,241h1v5h-1zM531,232h1v3h-1zM532,181h1v1h-1zM534,174h1v9h-1zM538,246h1v1h-1zM540,173h1v5h-1zM540,251h1v1h-1zM541,172h1v1h-1zM541,240h1v1h-1zM542,167h1v22h-1zM545,179h1v1h-1zM547,248h1v1h-1zM548,242h1v1h-1zM549,173h1v1h-1zM549,248h1v1h-1zM553,181h1v2h-1zM553,241h1v9h-1zM554,181h1v4h-1zM554,241h1v1h-1zM556,250h1v1h-1zM557,176h1v1h-1zM558,176h1v5h-1zM559,247h1v1h-1zM560,178h1v1h-1zM561,172h1v1h-1zM562,161h1v24h-1zM562,250h1v1h-1zM564,235h1v13h-1zM567,244h1v6h-1zM571,175h1v1h-1zM572,251h1v1h-1zM573,172h1v6h-1zM576,182h1v1h-1zM578,247h1v1h-1zM579,167h1v15h-1zM581,249h1v2h-1zM582,172h1v5h-1zM583,177h1v3h-1zM583,247h1v2h-1zM584,176h1v1h-1zM584,250h1v1h-1zM585,176h1v4h-1zM590,181h1v2h-1zM593,175h1v3h-1zM594,250h1v1h-1zM595,249h1v1h-1zM596,250h1v1h-1zM601,191h1v1h-1zM601,250h1v1h-1zM606,186h1v1h-1zM608,174h1v9h-1zM608,250h1v3h-1zM609,178h1v1h-1zM613,248h1v1h-1zM614,250h1v1h-1zM616,246h1v1h-1zM617,178h1v3h-1zM618,242h1v3h-1zM619,176h1v15h-1zM619,245h1v4h-1zM620,164h1v10h-1zM623,178h1v1h-1zM625,176h1v1h-1zM625,238h1v1h-1zM626,173h1v1h-1zM629,242h1v9h-1zM630,179h1v1h-1zM635,187h1v1h-1zM637,179h1v4h-1zM637,245h1v6h-1zM638,180h1v3h-1zM640,179h1v1h-1zM640,249h1v4h-1zM641,247h1v2h-1zM649,176h1v1h-1zM651,245h1v5h-1zM654,247h1v2h-1zM655,178h1v1h-1zM656,247h1v1h-1zM658,247h1v1h-1zM663,246h1v1h-1zM665,176h1v1h-1zM665,249h1v1h-1zM666,239h1v10h-1zM667,172h1v1h-1zM668,243h1v3h-1zM672,179h1v10h-1z" fill="#37ab6a" fill-opacity="0.40"/><path d="M520,176h1v44h-1zM523,231h1v1h-1zM524,234h1v1h-1zM526,167h1v5h-1zM526,225h1v12h-1zM527,164h1v10h-1zM530,170h1v17h-1zM532,241h1v10h-1zM533,172h1v1h-1zM535,172h1v1h-1zM536,178h1v6h-1zM536,244h1v6h-1zM537,244h1v7h-1zM539,187h1v1h-1zM539,248h1v1h-1zM541,173h1v5h-1zM541,238h1v2h-1zM542,189h1v1h-1zM542,249h1v2h-1zM543,188h1v1h-1zM545,240h1v9h-1zM546,240h1v2h-1zM549,174h1v13h-1zM549,236h1v12h-1zM552,180h1v5h-1zM553,183h1v1h-1zM553,240h1v1h-1zM555,176h1v1h-1zM555,244h1v6h-1zM561,173h1v6h-1zM562,185h1v2h-1zM563,239h1v10h-1zM566,249h1v1h-1zM567,181h1v7h-1zM568,249h1v1h-1zM571,176h1v1h-1zM573,178h1v1h-1zM574,178h1v1h-1zM575,180h1v1h-1zM576,183h1v3h-1zM576,248h1v1h-1zM577,247h1v1h-1zM578,181h1v1h-1zM581,178h1v1h-1zM582,177h1v1h-1zM583,180h1v1h-1zM584,177h1v1h-1zM585,251h1v1h-1zM586,246h1v1h-1zM588,243h1v1h-1zM589,175h1v8h-1zM591,184h1v1h-1zM591,244h1v4h-1zM592,242h1v1h-1zM593,178h1v1h-1zM594,178h1v4h-1zM594,249h1v1h-1zM595,241h1v8h-1zM597,171h1v1h-1zM597,248h1v1h-1zM600,186h1v1h-1zM601,243h1v1h-1zM601,249h1v1h-1zM602,175h1v6h-1zM603,251h1v1h-1zM604,175h1v9h-1zM606,240h1v9h-1zM608,249h1v1h-1zM610,179h1v1h-1zM611,246h1v2h-1zM613,247h1v1h-1zM615,240h1v5h-1zM615,248h1v1h-1zM616,244h1v2h-1zM617,181h1v1h-1zM618,176h1v7h-1zM623,179h1v1h-1zM624,174h1v1h-1zM625,177h1v7h-1zM626,174h1v2h-1zM629,181h1v1h-1zM630,180h1v7h-1zM631,170h1v1h-1zM632,187h1v1h-1zM634,179h1v1h-1zM635,251h1v1h-1zM636,185h1v1h-1zM638,183h1v1h-1zM641,178h1v2h-1zM642,249h1v1h-1zM643,175h1v12h-1zM643,250h1v1h-1zM644,177h1v1h-1zM644,237h1v14h-1zM645,246h1v1h-1zM647,248h1v2h-1zM650,183h1v1h-1zM651,165h1v17h-1zM652,242h1v1h-1zM653,183h1v2h-1zM654,243h1v4h-1zM657,179h1v5h-1zM658,175h1v1h-1zM659,179h1v1h-1zM660,251h1v1h-1zM661,248h1v1h-1zM665,248h1v1h-1zM667,239h1v12h-1zM670,246h1v1h-1zM671,183h1v5h-1zM673,183h1v4h-1zM674,243h1v1h-1z" fill="#37ab6a" fill-opacity="0.50"/><path d="M521,159h1v5h-1zM523,226h1v5h-1zM524,233h1v1h-1zM525,173h1v1h-1zM525,234h1v4h-1zM527,241h1v1h-1zM529,175h1v3h-1zM529,242h1v2h-1zM530,240h1v1h-1zM531,178h1v2h-1zM531,231h1v1h-1zM532,237h1v4h-1zM533,173h1v1h-1zM533,243h1v4h-1zM534,183h1v1h-1zM534,247h1v1h-1zM535,173h1v4h-1zM535,247h1v1h-1zM536,184h1v1h-1zM537,179h1v8h-1zM538,177h1v4h-1zM538,242h1v4h-1zM539,245h1v3h-1zM540,245h1v6h-1zM541,234h1v4h-1zM543,243h1v6h-1zM544,180h1v10h-1zM544,248h1v1h-1zM546,182h1v1h-1zM547,247h1v1h-1zM548,180h1v1h-1zM548,240h1v2h-1zM549,187h1v7h-1zM549,235h1v1h-1zM550,175h1v10h-1zM550,249h1v1h-1zM551,185h1v1h-1zM551,240h1v7h-1zM552,246h1v1h-1zM554,185h1v1h-1zM554,239h1v2h-1zM556,176h1v1h-1zM557,177h1v8h-1zM560,179h1v5h-1zM560,247h1v1h-1zM561,179h1v1h-1zM563,180h1v1h-1zM564,178h1v2h-1zM564,230h1v5h-1zM566,171h1v6h-1zM566,238h1v11h-1zM567,235h1v1h-1zM567,243h1v1h-1zM568,168h1v11h-1zM568,243h1v6h-1zM569,180h1v2h-1zM571,246h1v3h-1zM572,250h1v1h-1zM574,179h1v4h-1zM574,246h1v5h-1zM575,246h1v3h-1zM579,182h1v1h-1zM580,178h1v1h-1zM581,179h1v1h-1zM581,244h1v5h-1zM582,248h1v1h-1zM585,180h1v1h-1zM586,176h1v6h-1zM587,168h1v11h-1zM587,246h1v4h-1zM588,183h1v5h-1zM591,243h1v1h-1zM592,239h1v3h-1zM593,179h1v1h-1zM594,182h1v2h-1zM595,177h1v7h-1zM596,181h1v3h-1zM596,241h1v9h-1zM597,172h1v6h-1zM597,243h1v5h-1zM598,185h1v1h-1zM598,244h1v1h-1zM599,173h1v5h-1zM600,244h1v1h-1zM601,242h1v1h-1zM601,244h1v5h-1zM603,178h1v1h-1zM603,249h1v2h-1zM605,174h1v2h-1zM606,187h1v2h-1zM606,238h1v2h-1zM607,176h1v7h-1zM610,244h1v1h-1zM611,244h1v2h-1zM612,247h1v2h-1zM613,184h1v1h-1zM613,246h1v1h-1zM615,171h1v5h-1zM615,245h1v3h-1zM616,181h1v1h-1zM616,243h1v1h-1zM617,238h1v7h-1zM619,237h1v8h-1zM620,174h1v1h-1zM620,243h1v1h-1zM623,180h1v6h-1zM623,242h1v5h-1zM624,175h1v6h-1zM625,235h1v3h-1zM626,176h1v4h-1zM627,181h1v1h-1zM629,182h1v5h-1zM629,241h1v1h-1zM630,187h1v3h-1zM630,243h1v6h-1zM631,171h1v8h-1zM632,188h1v5h-1zM632,250h1v1h-1zM633,185h1v2h-1zM633,250h1v1h-1zM635,250h1v1h-1zM637,183h1v1h-1zM639,176h1v3h-1zM639,249h1v1h-1zM640,180h1v1h-1zM640,247h1v2h-1zM641,180h1v7h-1zM644,178h1v3h-1zM645,179h1v3h-1zM646,176h1v2h-1zM646,247h1v2h-1zM647,179h1v1h-1zM648,159h1v26h-1zM649,177h1v5h-1zM649,248h1v1h-1zM650,184h1v1h-1zM650,243h1v6h-1zM651,182h1v1h-1zM652,172h1v4h-1zM652,241h1v1h-1zM653,242h1v8h-1zM654,177h1v1h-1zM656,174h1v7h-1zM657,237h1v1h-1zM658,176h1v2h-1zM658,245h1v2h-1zM659,180h1v1h-1zM660,179h1v2h-1zM660,250h1v1h-1zM662,182h1v1h-1zM662,246h1v4h-1zM663,178h1v1h-1zM663,245h1v1h-1zM664,184h1v1h-1zM665,177h1v6h-1zM665,247h1v1h-1zM666,238h1v1h-1zM668,169h1v4h-1zM668,240h1v3h-1zM669,186h1v4h-1zM669,237h1v6h-1zM671,188h1v1h-1zM671,250h1v2h-1zM673,240h1v6h-1zM674,180h1v1h-1zM674,240h1v3h-1z" fill="#37ab6a" fill-opacity="0.60"/><path d="M521,164h1v1h-1zM523,225h1v1h-1zM524,232h1v1h-1zM525,233h1v1h-1zM526,224h1v1h-1zM528,170h1v1h-1zM535,177h1v1h-1zM537,187h1v1h-1zM538,181h1v1h-1zM540,244h1v1h-1zM542,190h1v1h-1zM545,180h1v1h-1zM545,239h1v1h-1zM549,194h1v1h-1zM550,185h1v1h-1zM550,248h1v1h-1zM555,243h1v1h-1zM557,185h1v1h-1zM558,240h1v1h-1zM559,178h1v1h-1zM561,248h1v1h-1zM562,187h1v1h-1zM562,249h1v1h-1zM563,238h1v1h-1zM564,229h1v1h-1zM566,237h1v1h-1zM567,188h1v1h-1zM567,236h1v1h-1zM568,179h1v1h-1zM569,182h1v1h-1zM572,175h1v1h-1zM572,249h1v1h-1zM574,245h1v1h-1zM575,181h1v1h-1zM575,245h1v1h-1zM577,246h1v1h-1zM578,182h1v1h-1zM579,249h1v1h-1zM583,246h1v1h-1zM584,178h1v1h-1zM586,245h1v1h-1zM587,245h1v1h-1zM588,188h1v1h-1zM590,183h1v1h-1zM591,185h1v1h-1zM591,242h1v1h-1zM592,238h1v1h-1zM594,184h1v1h-1zM594,248h1v1h-1zM596,184h1v1h-1zM597,178h1v1h-1zM597,242h1v1h-1zM599,178h1v1h-1zM599,250h1v1h-1zM601,241h1v1h-1zM602,181h1v1h-1zM603,248h1v1h-1zM607,251h1v1h-1zM608,183h1v1h-1zM609,179h1v1h-1zM611,243h1v1h-1zM612,246h1v1h-1zM618,241h1v1h-1zM628,184h1v1h-1zM628,237h1v1h-1zM630,242h1v1h-1zM633,187h1v1h-1zM637,244h1v1h-1zM640,181h1v1h-1zM642,179h1v1h-1zM644,181h1v1h-1zM646,178h1v1h-1zM648,185h1v1h-1zM648,249h1v1h-1zM649,182h1v1h-1zM649,247h1v1h-1zM653,185h1v1h-1zM653,241h1v1h-1zM654,242h1v1h-1zM656,181h1v1h-1zM657,184h1v1h-1zM658,178h1v1h-1zM658,244h1v1h-1zM659,181h1v1h-1zM660,181h1v1h-1zM661,178h1v1h-1zM662,183h1v1h-1zM662,245h1v1h-1zM663,179h1v1h-1zM665,183h1v1h-1zM667,238h1v1h-1zM668,173h1v1h-1zM669,190h1v1h-1zM669,236h1v1h-1zM670,185h1v1h-1zM671,189h1v1h-1zM672,189h1v1h-1z" fill="#37ab6a" fill-opacity="0.70"/><path d="M521,220h1v6h-1zM522,164h1v1h-1zM522,224h1v3h-1zM524,165h1v5h-1zM524,222h1v10h-1zM525,174h1v7h-1zM525,232h1v1h-1zM526,172h1v1h-1zM527,174h1v1h-1zM527,235h1v6h-1zM528,171h1v7h-1zM528,244h1v1h-1zM529,178h1v1h-1zM532,236h1v1h-1zM533,174h1v10h-1zM533,242h1v1h-1zM534,237h1v10h-1zM535,178h1v4h-1zM536,185h1v1h-1zM536,240h1v4h-1zM537,188h1v2h-1zM538,182h1v5h-1zM538,241h1v1h-1zM539,188h1v1h-1zM540,240h1v4h-1zM541,178h1v4h-1zM543,189h1v1h-1zM545,236h1v3h-1zM546,183h1v2h-1zM547,176h1v9h-1zM548,239h1v1h-1zM549,233h1v2h-1zM550,186h1v4h-1zM550,237h1v11h-1zM552,185h1v1h-1zM554,238h1v1h-1zM555,177h1v8h-1zM555,242h1v1h-1zM558,181h1v1h-1zM558,238h1v2h-1zM559,179h1v1h-1zM559,243h1v4h-1zM562,244h1v5h-1zM564,180h1v1h-1zM564,228h1v1h-1zM565,190h1v1h-1zM565,249h1v1h-1zM567,189h1v1h-1zM567,237h1v6h-1zM568,242h1v1h-1zM569,183h1v6h-1zM569,248h1v2h-1zM570,249h1v1h-1zM571,177h1v1h-1zM571,238h1v2h-1zM571,245h1v1h-1zM572,248h1v1h-1zM573,179h1v1h-1zM573,245h1v3h-1zM574,183h1v1h-1zM575,243h1v2h-1zM576,247h1v1h-1zM577,178h1v1h-1zM577,236h1v10h-1zM578,183h1v3h-1zM578,246h1v1h-1zM580,246h1v3h-1zM581,243h1v1h-1zM583,243h1v3h-1zM584,179h1v7h-1zM584,247h1v3h-1zM585,181h1v6h-1zM587,179h1v1h-1zM587,244h1v1h-1zM588,242h1v1h-1zM589,183h1v1h-1zM589,232h1v9h-1zM589,242h1v3h-1zM591,241h1v1h-1zM592,179h1v5h-1zM593,180h1v3h-1zM593,249h1v1h-1zM594,235h1v13h-1zM595,184h1v1h-1zM595,239h1v2h-1zM597,179h1v3h-1zM597,238h1v4h-1zM598,242h1v2h-1zM599,238h1v12h-1zM600,187h1v1h-1zM600,239h1v5h-1zM601,235h1v6h-1zM602,240h1v3h-1zM603,235h1v13h-1zM605,176h1v1h-1zM605,230h1v3h-1zM606,189h1v4h-1zM606,237h1v1h-1zM608,243h1v6h-1zM609,180h1v8h-1zM609,240h1v3h-1zM610,180h1v3h-1zM610,243h1v1h-1zM611,237h1v6h-1zM612,190h1v1h-1zM614,179h1v1h-1zM614,249h1v1h-1zM615,176h1v1h-1zM615,239h1v1h-1zM616,182h1v2h-1zM617,182h1v7h-1zM618,183h1v1h-1zM618,239h1v2h-1zM620,175h1v4h-1zM620,240h1v3h-1zM621,175h1v9h-1zM622,176h1v1h-1zM623,186h1v1h-1zM623,239h1v3h-1zM624,245h1v1h-1zM625,184h1v1h-1zM625,234h1v1h-1zM626,180h1v1h-1zM627,242h1v1h-1zM628,185h1v2h-1zM628,232h1v5h-1zM630,190h1v1h-1zM631,179h1v1h-1zM631,248h1v1h-1zM632,193h1v1h-1zM633,188h1v1h-1zM634,232h1v1h-1zM635,249h1v1h-1zM636,242h1v7h-1zM637,184h1v6h-1zM638,184h1v1h-1zM638,236h1v11h-1zM639,179h1v1h-1zM639,242h1v7h-1zM641,187h1v1h-1zM641,240h1v7h-1zM642,180h1v9h-1zM642,248h1v1h-1zM643,187h1v10h-1zM643,249h1v1h-1zM644,182h1v1h-1zM644,235h1v2h-1zM645,182h1v1h-1zM648,248h1v1h-1zM650,242h1v1h-1zM652,176h1v1h-1zM652,239h1v2h-1zM655,179h1v7h-1zM655,244h1v1h-1zM656,182h1v4h-1zM656,241h1v6h-1zM657,185h1v1h-1zM657,235h1v2h-1zM658,179h1v10h-1zM658,234h1v10h-1zM659,248h1v1h-1zM661,245h1v3h-1zM662,184h1v4h-1zM662,238h1v7h-1zM663,180h1v2h-1zM663,243h1v2h-1zM664,185h1v3h-1zM665,184h1v5h-1zM666,181h1v2h-1zM667,173h1v1h-1zM667,237h1v1h-1zM668,239h1v1h-1zM670,237h1v2h-1zM671,190h1v1h-1zM671,249h1v1h-1zM672,244h1v5h-1zM673,187h1v3h-1zM674,181h1v2h-1zM674,239h1v1h-1z" fill="#37ab6a" fill-opacity="0.80"/><path d="M521,219h1v1h-1zM523,221h1v4h-1zM524,170h1v1h-1zM524,221h1v1h-1zM527,175h1v5h-1zM527,234h1v1h-1zM528,178h1v1h-1zM528,242h1v2h-1zM529,179h1v5h-1zM529,241h1v1h-1zM530,187h1v1h-1zM530,237h1v3h-1zM532,232h1v4h-1zM533,184h1v6h-1zM533,235h1v7h-1zM534,184h1v2h-1zM534,236h1v1h-1zM535,237h1v10h-1zM536,186h1v1h-1zM537,190h1v1h-1zM537,242h1v2h-1zM539,244h1v1h-1zM540,178h1v7h-1zM540,239h1v1h-1zM543,242h1v1h-1zM544,190h1v1h-1zM544,239h1v9h-1zM545,181h1v7h-1zM545,234h1v2h-1zM546,185h1v6h-1zM546,239h1v1h-1zM547,185h1v6h-1zM548,181h1v1h-1zM548,231h1v8h-1zM550,190h1v2h-1zM551,186h1v3h-1zM552,186h1v3h-1zM552,231h1v15h-1zM554,186h1v1h-1zM554,235h1v3h-1zM555,241h1v1h-1zM556,177h1v3h-1zM556,249h1v1h-1zM557,241h1v9h-1zM560,246h1v1h-1zM561,242h1v6h-1zM562,188h1v3h-1zM562,243h1v1h-1zM563,181h1v1h-1zM564,181h1v1h-1zM564,226h1v2h-1zM565,235h1v14h-1zM566,177h1v1h-1zM566,236h1v1h-1zM567,190h1v2h-1zM567,234h1v1h-1zM568,180h1v3h-1zM568,232h1v10h-1zM569,247h1v1h-1zM570,175h1v16h-1zM571,240h1v5h-1zM572,176h1v1h-1zM572,238h1v10h-1zM573,244h1v1h-1zM574,184h1v12h-1zM574,244h1v1h-1zM575,182h1v2h-1zM575,238h1v5h-1zM576,186h1v1h-1zM576,239h1v8h-1zM579,183h1v5h-1zM579,247h1v2h-1zM581,180h1v10h-1zM581,239h1v4h-1zM582,235h1v13h-1zM585,187h1v1h-1zM585,250h1v1h-1zM586,182h1v1h-1zM587,180h1v9h-1zM588,189h1v2h-1zM588,232h1v10h-1zM589,184h1v3h-1zM589,241h1v1h-1zM590,241h1v8h-1zM591,186h1v2h-1zM592,184h1v1h-1zM593,183h1v5h-1zM593,243h1v6h-1zM594,185h1v3h-1zM594,234h1v1h-1zM597,237h1v1h-1zM598,186h1v2h-1zM598,237h1v5h-1zM599,179h1v3h-1zM599,237h1v1h-1zM600,238h1v1h-1zM602,233h1v7h-1zM603,179h1v11h-1zM604,184h1v2h-1zM605,177h1v9h-1zM606,193h1v1h-1zM606,235h1v2h-1zM607,183h1v1h-1zM607,249h1v2h-1zM608,184h1v13h-1zM608,236h1v7h-1zM609,188h1v2h-1zM609,239h1v1h-1zM610,183h1v2h-1zM610,240h1v3h-1zM611,234h1v3h-1zM612,245h1v1h-1zM613,185h1v5h-1zM614,237h1v12h-1zM617,189h1v6h-1zM617,237h1v1h-1zM618,238h1v1h-1zM619,191h1v1h-1zM620,179h1v6h-1zM620,237h1v3h-1zM622,177h1v2h-1zM622,247h1v3h-1zM623,187h1v4h-1zM624,242h1v3h-1zM627,182h1v1h-1zM628,187h1v3h-1zM628,229h1v3h-1zM629,187h1v2h-1zM629,240h1v1h-1zM630,191h1v1h-1zM631,180h1v2h-1zM632,194h1v1h-1zM634,180h1v5h-1zM634,226h1v6h-1zM635,188h1v4h-1zM636,241h1v1h-1zM637,242h1v2h-1zM640,182h1v1h-1zM640,242h1v5h-1zM641,229h1v11h-1zM644,183h1v4h-1zM644,234h1v1h-1zM645,183h1v1h-1zM646,179h1v5h-1zM647,247h1v1h-1zM648,240h1v8h-1zM649,183h1v8h-1zM650,241h1v1h-1zM652,177h1v8h-1zM652,238h1v1h-1zM655,231h1v13h-1zM656,240h1v1h-1zM657,186h1v1h-1zM657,234h1v1h-1zM658,189h1v2h-1zM658,233h1v1h-1zM659,182h1v6h-1zM659,240h1v8h-1zM660,182h1v4h-1zM660,249h1v1h-1zM662,236h1v2h-1zM663,182h1v1h-1zM663,242h1v1h-1zM664,188h1v2h-1zM664,248h1v2h-1zM665,189h1v11h-1zM666,183h1v1h-1zM667,174h1v2h-1zM668,174h1v8h-1zM668,228h1v5h-1zM669,191h1v3h-1zM669,235h1v1h-1zM670,186h1v3h-1zM670,236h1v1h-1zM670,239h1v7h-1zM671,191h1v1h-1zM672,243h1v1h-1zM673,239h1v1h-1zM674,183h1v8h-1z" fill="#37ab6a" fill-opacity="0.90"/><path d="M521,165h1v54h-1zM522,165h1v59h-1zM523,159h1v62h-1zM524,171h1v50h-1zM525,181h1v51h-1zM526,173h1v51h-1zM527,180h1v54h-1zM528,179h1v63h-1zM529,184h1v57h-1zM530,188h1v49h-1zM531,180h1v51h-1zM532,182h1v50h-1zM533,190h1v45h-1zM534,186h1v50h-1zM535,182h1v55h-1zM536,187h1v53h-1zM537,191h1v51h-1zM538,187h1v54h-1zM539,189h1v55h-1zM540,185h1v54h-1zM541,182h1v52h-1zM542,191h1v58h-1zM543,190h1v52h-1zM544,191h1v48h-1zM545,188h1v46h-1zM546,191h1v48h-1zM547,191h1v56h-1zM548,182h1v49h-1zM549,195h1v38h-1zM550,192h1v45h-1zM551,189h1v51h-1zM552,189h1v42h-1zM553,184h1v56h-1zM554,187h1v48h-1zM555,185h1v56h-1zM556,180h1v69h-1zM557,186h1v55h-1zM558,182h1v56h-1zM559,180h1v63h-1zM560,184h1v62h-1zM561,180h1v62h-1zM562,191h1v52h-1zM563,182h1v56h-1zM564,182h1v44h-1zM565,191h1v44h-1zM566,178h1v58h-1zM567,192h1v42h-1zM568,183h1v49h-1zM569,189h1v58h-1zM570,191h1v58h-1zM571,178h1v60h-1zM572,177h1v61h-1zM573,180h1v64h-1zM574,196h1v48h-1zM575,184h1v54h-1zM576,187h1v52h-1zM577,179h1v57h-1zM578,186h1v60h-1zM579,188h1v59h-1zM580,179h1v67h-1zM581,190h1v49h-1zM582,178h1v57h-1zM583,181h1v62h-1zM584,186h1v61h-1zM585,188h1v62h-1zM586,183h1v62h-1zM587,189h1v55h-1zM588,191h1v41h-1zM589,187h1v45h-1zM590,184h1v57h-1zM591,188h1v53h-1zM592,185h1v53h-1zM593,188h1v55h-1zM594,188h1v46h-1zM595,185h1v54h-1zM596,185h1v56h-1zM597,182h1v55h-1zM598,188h1v49h-1zM599,182h1v55h-1zM600,188h1v50h-1zM601,192h1v43h-1zM602,182h1v51h-1zM603,190h1v45h-1zM604,186h1v63h-1zM605,186h1v44h-1zM606,194h1v41h-1zM607,184h1v65h-1zM608,197h1v39h-1zM609,190h1v49h-1zM610,185h1v55h-1zM611,180h1v54h-1zM612,191h1v54h-1zM613,190h1v56h-1zM614,180h1v57h-1zM615,177h1v62h-1zM616,184h1v59h-1zM617,195h1v42h-1zM618,184h1v54h-1zM619,192h1v45h-1zM620,185h1v52h-1zM621,184h1v67h-1zM622,179h1v68h-1zM623,191h1v48h-1zM624,181h1v61h-1zM625,185h1v49h-1zM626,181h1v68h-1zM627,183h1v59h-1zM628,190h1v39h-1zM629,189h1v51h-1zM630,192h1v50h-1zM631,182h1v66h-1zM632,195h1v55h-1zM633,189h1v61h-1zM634,185h1v41h-1zM635,192h1v57h-1zM636,186h1v55h-1zM637,190h1v52h-1zM638,185h1v51h-1zM639,180h1v62h-1zM640,183h1v59h-1zM641,188h1v41h-1zM642,189h1v59h-1zM643,197h1v52h-1zM644,187h1v47h-1zM645,184h1v62h-1zM646,184h1v63h-1zM647,180h1v67h-1zM648,186h1v54h-1zM649,191h1v56h-1zM650,185h1v56h-1zM651,183h1v62h-1zM652,185h1v53h-1zM653,186h1v55h-1zM654,178h1v64h-1zM655,186h1v45h-1zM656,186h1v54h-1zM657,187h1v47h-1zM658,191h1v42h-1zM659,188h1v52h-1zM660,186h1v63h-1zM661,179h1v66h-1zM662,188h1v48h-1zM663,183h1v59h-1zM664,190h1v58h-1zM665,200h1v47h-1zM666,184h1v54h-1zM667,176h1v61h-1zM668,182h1v46h-1zM668,233h1v6h-1zM669,194h1v41h-1zM670,189h1v47h-1zM671,192h1v57h-1zM672,190h1v53h-1zM673,190h1v49h-1zM674,191h1v48h-1z" fill="#37ab6a" fill-opacity="1.00"/><path d="M520.5,158.7H675.3" stroke="#737373" stroke-width="1.3" stroke-dasharray="5.7 4.72" stroke-dashoffset="3.05" fill="none"/><path d="M520.5,253.6H675.3" stroke="#737373" stroke-width="1.3" stroke-dasharray="5.7 4.72" stroke-dashoffset="3.05" fill="none"/><rect x="521" y="145.6" width="38.2" height="8.6" fill="#fff" stroke="#8c8c8c" stroke-width="0.6"/><line x1="521.5" y1="149.9" x2="536.9" y2="149.9" stroke="#5cc48a" stroke-width="1.6"/><text x="538.8" y="151.7" font-size="6.5" fill="#111" stroke="#111" stroke-width="0.1" textLength="18.4" lengthAdjust="spacingAndGlyphs">Case 3</text><rect x="520.5" y="142.6" width="154.8" height="124.8" fill="none" stroke="#1a1a1a" stroke-width="1.05"/><path d="M520.5,267.4v2.2M520.5,142.6v2.2M533.4,267.4v1.2M533.4,142.6v1.2M546.3,267.4v2.2M546.3,142.6v2.2M559.2,267.4v1.2M559.2,142.6v1.2M572.1,267.4v2.2M572.1,142.6v2.2M585,267.4v1.2M585,142.6v1.2M597.9,267.4v2.2M597.9,142.6v2.2M610.8,267.4v1.2M610.8,142.6v1.2M623.7,267.4v2.2M623.7,142.6v2.2M636.6,267.4v1.2M636.6,142.6v1.2M649.5,267.4v2.2M649.5,142.6v2.2M662.4,267.4v1.2M662.4,142.6v1.2M675.3,267.4v2.2M675.3,142.6v2.2M520.5,142.6h-2.2M675.3,142.6h-2.2M520.5,167.56h-2.2M675.3,167.56h-2.2M520.5,192.52h-2.2M675.3,192.52h-2.2M520.5,217.48h-2.2M675.3,217.48h-2.2M520.5,242.44h-2.2M675.3,242.44h-2.2M520.5,267.4h-2.2M675.3,267.4h-2.2M520.5,155.08h-1.2M675.3,155.08h-1.2M520.5,180.04h-1.2M675.3,180.04h-1.2M520.5,205h-1.2M675.3,205h-1.2M520.5,229.96h-1.2M675.3,229.96h-1.2M520.5,254.92h-1.2M675.3,254.92h-1.2" stroke="#1a1a1a" stroke-width="0.8" fill="none"/><text x="520.5" y="281.2" font-size="9" fill="#222" stroke="#222" stroke-width="0.08" text-anchor="middle">0</text><text x="546.3" y="281.2" font-size="9" fill="#222" stroke="#222" stroke-width="0.08" text-anchor="middle">1200</text><text x="572.1" y="281.2" font-size="9" fill="#222" stroke="#222" stroke-width="0.08" text-anchor="middle">2400</text><text x="597.9" y="281.2" font-size="9" fill="#222" stroke="#222" stroke-width="0.08" text-anchor="middle">3600</text><text x="623.7" y="281.2" font-size="9" fill="#222" stroke="#222" stroke-width="0.08" text-anchor="middle">4800</text><text x="649.5" y="281.2" font-size="9" fill="#222" stroke="#222" stroke-width="0.08" text-anchor="middle">6000</text><text x="675.3" y="281.2" font-size="9" fill="#222" stroke="#222" stroke-width="0.08" text-anchor="middle">7200</text><text x="513.1" y="145.8" font-size="9" fill="#222" stroke="#222" stroke-width="0.08" text-anchor="end">178.760</text><text x="513.1" y="170.76" font-size="9" fill="#222" stroke="#222" stroke-width="0.08" text-anchor="end">178.758</text><text x="513.1" y="195.72" font-size="9" fill="#222" stroke="#222" stroke-width="0.08" text-anchor="end">178.756</text><text x="513.1" y="220.68" font-size="9" fill="#222" stroke="#222" stroke-width="0.08" text-anchor="end">178.754</text><text x="513.1" y="245.64" font-size="9" fill="#222" stroke="#222" stroke-width="0.08" text-anchor="end">178.752</text><text x="513.1" y="270.6" font-size="9" fill="#222" stroke="#222" stroke-width="0.08" text-anchor="end">178.750</text><text x="596.9" y="294.9" font-size="9.1" fill="#222" stroke="#222" stroke-width="0.08" text-anchor="middle">Time (s)</text><text transform="translate(473.7,205.9) rotate(-90)" font-size="8.8" fill="#222" stroke="#222" stroke-width="0.06" text-anchor="middle">Phase difference (degree)</text><text x="659.9" y="156.1" font-size="7.35" fill="#222" stroke="#222" stroke-width="0.05" text-anchor="end">&lt;0.0073</text><path d="M665.3,149.9V154.9" stroke="#000" stroke-width="0.9"/><path d="M663.2,152.8 L665.3,158.4 L667.4,152.8 L665.3,154.1Z" fill="#000"/><text x="573.8" y="262.9" font-size="7.3" fill="#222" stroke="#222" stroke-width="0.05">mean value:178.7541</text><path d="M665.1,262.5V257.9" stroke="#000" stroke-width="0.9"/><path d="M663,260 L665.1,254.4 L667.2,260 L665.1,258.7Z" fill="#000"/></svg></body></html>
